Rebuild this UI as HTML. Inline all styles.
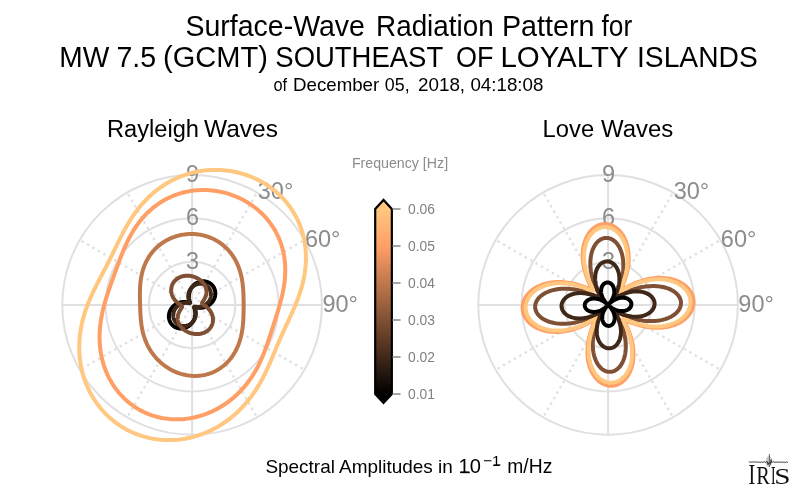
<!DOCTYPE html>
<html><head><meta charset="utf-8"><style>
html,body{margin:0;padding:0;background:#fff;width:800px;height:496px;overflow:hidden}
svg{display:block;will-change:transform}
text{font-family:"Liberation Sans",sans-serif}
.t1{font-size:28px;fill:#000}
.t2{font-size:18.7px;fill:#000}
.pt{font-size:23.3px;fill:#000}
.lab{font-size:23.5px;fill:#8c8c8c}
.cbl{font-size:13.6px;fill:#808080}
.cbt{font-size:14.2px;fill:#8c8c8c}
.cap{font-size:18.6px;fill:#000}
.iris{font-family:"Liberation Serif",serif;font-size:26px;fill:#111}
</style></head><body>
<svg width="800" height="496" viewBox="0 0 800 496">
<rect width="800" height="496" fill="#fff"/>
<circle cx="192.10" cy="304.90" r="43.27" fill="none" stroke="#e0e0e0" stroke-width="2.0"/>
<circle cx="192.10" cy="304.90" r="86.53" fill="none" stroke="#e0e0e0" stroke-width="2.0"/>
<circle cx="192.10" cy="304.90" r="129.80" fill="none" stroke="#e0e0e0" stroke-width="2.0"/>
<line x1="192.10" y1="304.90" x2="192.10" y2="175.10" stroke="#e0e0e0" stroke-width="2.0"/>
<line x1="192.10" y1="304.90" x2="257.00" y2="192.49" stroke="#e0e0e0" stroke-width="2.37" stroke-dasharray="2.37 3.89"/>
<line x1="192.10" y1="304.90" x2="304.51" y2="240.00" stroke="#e0e0e0" stroke-width="2.37" stroke-dasharray="2.37 3.89"/>
<line x1="192.10" y1="304.90" x2="321.90" y2="304.90" stroke="#e0e0e0" stroke-width="2.0"/>
<line x1="192.10" y1="304.90" x2="304.51" y2="369.80" stroke="#e0e0e0" stroke-width="2.37" stroke-dasharray="2.37 3.89"/>
<line x1="192.10" y1="304.90" x2="257.00" y2="417.31" stroke="#e0e0e0" stroke-width="2.37" stroke-dasharray="2.37 3.89"/>
<line x1="192.10" y1="304.90" x2="192.10" y2="434.70" stroke="#e0e0e0" stroke-width="2.0"/>
<line x1="192.10" y1="304.90" x2="127.20" y2="417.31" stroke="#e0e0e0" stroke-width="2.37" stroke-dasharray="2.37 3.89"/>
<line x1="192.10" y1="304.90" x2="79.69" y2="369.80" stroke="#e0e0e0" stroke-width="2.37" stroke-dasharray="2.37 3.89"/>
<line x1="192.10" y1="304.90" x2="62.30" y2="304.90" stroke="#e0e0e0" stroke-width="2.0"/>
<line x1="192.10" y1="304.90" x2="79.69" y2="240.00" stroke="#e0e0e0" stroke-width="2.37" stroke-dasharray="2.37 3.89"/>
<line x1="192.10" y1="304.90" x2="127.20" y2="192.49" stroke="#e0e0e0" stroke-width="2.37" stroke-dasharray="2.37 3.89"/>
<circle cx="608.07" cy="304.90" r="43.27" fill="none" stroke="#e0e0e0" stroke-width="2.0"/>
<circle cx="608.07" cy="304.90" r="86.53" fill="none" stroke="#e0e0e0" stroke-width="2.0"/>
<circle cx="608.07" cy="304.90" r="129.80" fill="none" stroke="#e0e0e0" stroke-width="2.0"/>
<line x1="608.07" y1="304.90" x2="608.07" y2="175.10" stroke="#e0e0e0" stroke-width="2.0"/>
<line x1="608.07" y1="304.90" x2="672.97" y2="192.49" stroke="#e0e0e0" stroke-width="2.37" stroke-dasharray="2.37 3.89"/>
<line x1="608.07" y1="304.90" x2="720.48" y2="240.00" stroke="#e0e0e0" stroke-width="2.37" stroke-dasharray="2.37 3.89"/>
<line x1="608.07" y1="304.90" x2="737.87" y2="304.90" stroke="#e0e0e0" stroke-width="2.0"/>
<line x1="608.07" y1="304.90" x2="720.48" y2="369.80" stroke="#e0e0e0" stroke-width="2.37" stroke-dasharray="2.37 3.89"/>
<line x1="608.07" y1="304.90" x2="672.97" y2="417.31" stroke="#e0e0e0" stroke-width="2.37" stroke-dasharray="2.37 3.89"/>
<line x1="608.07" y1="304.90" x2="608.07" y2="434.70" stroke="#e0e0e0" stroke-width="2.0"/>
<line x1="608.07" y1="304.90" x2="543.17" y2="417.31" stroke="#e0e0e0" stroke-width="2.37" stroke-dasharray="2.37 3.89"/>
<line x1="608.07" y1="304.90" x2="495.66" y2="369.80" stroke="#e0e0e0" stroke-width="2.37" stroke-dasharray="2.37 3.89"/>
<line x1="608.07" y1="304.90" x2="478.27" y2="304.90" stroke="#e0e0e0" stroke-width="2.0"/>
<line x1="608.07" y1="304.90" x2="495.66" y2="240.00" stroke="#e0e0e0" stroke-width="2.37" stroke-dasharray="2.37 3.89"/>
<line x1="608.07" y1="304.90" x2="543.17" y2="192.49" stroke="#e0e0e0" stroke-width="2.37" stroke-dasharray="2.37 3.89"/>
<text x="192.60" y="268.65" text-anchor="middle" class="lab">3</text>
<text x="192.60" y="225.45" text-anchor="middle" class="lab">6</text>
<text x="192.60" y="182.45" text-anchor="middle" class="lab">9</text>
<text x="608.57" y="268.65" text-anchor="middle" class="lab">3</text>
<text x="608.57" y="225.45" text-anchor="middle" class="lab">6</text>
<text x="608.57" y="182.45" text-anchor="middle" class="lab">9</text>
<text x="257.75" y="199.10" class="lab">30°</text>
<text x="304.90" y="247.00" class="lab">60°</text>
<text x="322.40" y="312.00" class="lab">90°</text>
<text x="673.72" y="199.10" class="lab">30°</text>
<text x="720.87" y="247.00" class="lab">60°</text>
<text x="738.37" y="312.00" class="lab">90°</text>
<path d="M192.10,286.99 L192.42,286.59 L192.75,286.19 L193.10,285.81 L193.46,285.44 L193.83,285.08 L194.22,284.73 L194.62,284.40 L195.03,284.08 L195.45,283.77 L195.88,283.49 L196.32,283.21 L196.76,282.96 L197.22,282.72 L197.69,282.50 L198.16,282.29 L198.64,282.11 L199.12,281.94 L199.61,281.79 L200.10,281.66 L200.60,281.55 L201.10,281.45 L201.60,281.38 L202.11,281.33 L202.61,281.29 L203.11,281.28 L203.62,281.29 L204.12,281.31 L204.62,281.36 L205.11,281.42 L205.60,281.51 L206.09,281.61 L206.57,281.74 L207.05,281.88 L207.52,282.04 L207.98,282.22 L208.43,282.42 L208.87,282.64 L209.31,282.88 L209.73,283.13 L210.14,283.40 L210.54,283.69 L210.93,283.99 L211.30,284.31 L211.66,284.64 L212.01,284.99 L212.34,285.35 L212.66,285.73 L212.96,286.12 L213.24,286.52 L213.51,286.94 L213.76,287.36 L213.99,287.80 L214.21,288.24 L214.40,288.69 L214.58,289.16 L214.74,289.63 L214.88,290.10 L215.01,290.59 L215.11,291.08 L215.19,291.57 L215.25,292.07 L215.30,292.57 L215.32,293.07 L215.32,293.57 L215.31,294.08 L215.27,294.58 L215.22,295.09 L215.14,295.59 L215.05,296.09 L214.94,296.59 L214.80,297.08 L214.65,297.57 L214.48,298.06 L214.29,298.54 L214.09,299.01 L213.87,299.47 L213.63,299.93 L213.37,300.38 L213.10,300.82 L212.81,301.25 L212.50,301.67 L212.18,302.08 L211.85,302.47 L211.51,302.86 L211.15,303.23 L210.77,303.59 L210.39,303.94 L210.00,304.28 L209.59,304.59 L209.18,304.90 L208.76,305.19 L208.32,305.47 L207.89,305.73 L207.44,305.97 L206.99,306.20 L206.53,306.42 L206.07,306.62 L205.61,306.80 L205.14,306.97 L204.67,307.12 L204.20,307.25 L203.73,307.37 L203.27,307.48 L202.80,307.57 L202.33,307.64 L201.87,307.70 L201.42,307.75 L200.97,307.78 L200.52,307.80 L200.08,307.81 L199.65,307.80 L199.23,307.78 L198.82,307.75 L198.42,307.71 L198.03,307.67 L197.66,307.61 L197.30,307.55 L196.96,307.48 L196.63,307.41 L196.32,307.34 L196.03,307.26 L195.76,307.19 L195.52,307.12 L195.29,307.05 L195.09,307.00 L194.92,306.95 L194.77,306.91 L194.64,306.89 L194.54,306.87 L194.46,306.88 L194.39,306.89 L194.34,306.91 L194.30,306.95 L194.26,306.98 L194.22,307.02 L194.19,307.07 L194.17,307.12 L194.16,307.18 L194.16,307.27 L194.17,307.37 L194.20,307.50 L194.24,307.65 L194.30,307.82 L194.36,308.02 L194.44,308.24 L194.51,308.48 L194.60,308.75 L194.68,309.03 L194.77,309.34 L194.85,309.66 L194.93,310.00 L195.00,310.36 L195.07,310.73 L195.13,311.12 L195.19,311.52 L195.23,311.93 L195.26,312.35 L195.28,312.78 L195.29,313.21 L195.29,313.66 L195.27,314.11 L195.24,314.57 L195.20,315.03 L195.14,315.50 L195.07,315.97 L194.98,316.44 L194.87,316.91 L194.75,317.39 L194.62,317.86 L194.47,318.33 L194.30,318.80 L194.12,319.27 L193.92,319.73 L193.71,320.19 L193.48,320.65 L193.23,321.09 L192.97,321.53 L192.70,321.97 L192.41,322.39 L192.10,322.81 L191.78,323.21 L191.45,323.61 L191.10,323.99 L190.74,324.36 L190.37,324.72 L189.98,325.07 L189.58,325.40 L189.17,325.72 L188.75,326.03 L188.32,326.31 L187.88,326.59 L187.44,326.84 L186.98,327.08 L186.51,327.30 L186.04,327.51 L185.56,327.69 L185.08,327.86 L184.59,328.01 L184.10,328.14 L183.60,328.25 L183.10,328.35 L182.60,328.42 L182.09,328.47 L181.59,328.51 L181.09,328.52 L180.58,328.51 L180.08,328.49 L179.58,328.44 L179.09,328.38 L178.60,328.29 L178.11,328.19 L177.63,328.06 L177.15,327.92 L176.68,327.76 L176.22,327.58 L175.77,327.38 L175.33,327.16 L174.89,326.92 L174.47,326.67 L174.06,326.40 L173.66,326.11 L173.27,325.81 L172.90,325.49 L172.54,325.16 L172.19,324.81 L171.86,324.45 L171.54,324.07 L171.24,323.68 L170.96,323.28 L170.69,322.86 L170.44,322.44 L170.21,322.00 L169.99,321.56 L169.80,321.11 L169.62,320.64 L169.46,320.17 L169.32,319.70 L169.19,319.21 L169.09,318.72 L169.01,318.23 L168.95,317.73 L168.90,317.23 L168.88,316.73 L168.88,316.23 L168.89,315.72 L168.93,315.22 L168.98,314.71 L169.06,314.21 L169.15,313.71 L169.26,313.21 L169.40,312.72 L169.55,312.23 L169.72,311.74 L169.91,311.26 L170.11,310.79 L170.33,310.33 L170.57,309.87 L170.83,309.42 L171.10,308.98 L171.39,308.55 L171.70,308.13 L172.02,307.72 L172.35,307.33 L172.69,306.94 L173.05,306.57 L173.43,306.21 L173.81,305.86 L174.20,305.52 L174.61,305.21 L175.02,304.90 L175.44,304.61 L175.88,304.33 L176.31,304.07 L176.76,303.83 L177.21,303.60 L177.67,303.38 L178.13,303.18 L178.59,303.00 L179.06,302.83 L179.53,302.68 L180.00,302.55 L180.47,302.43 L180.93,302.32 L181.40,302.23 L181.87,302.16 L182.33,302.10 L182.78,302.05 L183.23,302.02 L183.68,302.00 L184.12,301.99 L184.55,302.00 L184.97,302.02 L185.38,302.05 L185.78,302.09 L186.17,302.13 L186.54,302.19 L186.90,302.25 L187.24,302.32 L187.57,302.39 L187.88,302.46 L188.17,302.54 L188.44,302.61 L188.68,302.68 L188.91,302.75 L189.11,302.80 L189.28,302.85 L189.43,302.89 L189.56,302.91 L189.66,302.93 L189.74,302.92 L189.81,302.91 L189.86,302.89 L189.90,302.85 L189.94,302.82 L189.98,302.78 L190.01,302.73 L190.03,302.68 L190.04,302.62 L190.04,302.53 L190.03,302.43 L190.00,302.30 L189.96,302.15 L189.90,301.98 L189.84,301.78 L189.76,301.56 L189.69,301.32 L189.60,301.05 L189.52,300.77 L189.43,300.46 L189.35,300.14 L189.27,299.80 L189.20,299.44 L189.13,299.07 L189.07,298.68 L189.01,298.28 L188.97,297.87 L188.94,297.45 L188.92,297.02 L188.91,296.59 L188.91,296.14 L188.93,295.69 L188.96,295.23 L189.00,294.77 L189.06,294.30 L189.13,293.83 L189.22,293.36 L189.33,292.89 L189.45,292.41 L189.58,291.94 L189.73,291.47 L189.90,291.00 L190.08,290.53 L190.28,290.07 L190.49,289.61 L190.72,289.15 L190.97,288.71 L191.23,288.27 L191.50,287.83 L191.79,287.41Z" fill="none" stroke="#000000" stroke-width="4" stroke-linejoin="round"/>
<path d="M192.10,287.18 L192.41,286.88 L192.74,286.60 L193.07,286.32 L193.42,286.05 L193.77,285.80 L194.13,285.56 L194.50,285.34 L194.88,285.13 L195.26,284.93 L195.65,284.75 L196.05,284.58 L196.45,284.42 L196.86,284.29 L197.27,284.16 L197.69,284.06 L198.10,283.96 L198.52,283.89 L198.95,283.83 L199.37,283.79 L199.79,283.76 L200.22,283.75 L200.64,283.75 L201.07,283.78 L201.49,283.81 L201.91,283.87 L202.32,283.94 L202.74,284.03 L203.14,284.13 L203.55,284.25 L203.95,284.38 L204.34,284.53 L204.72,284.70 L205.10,284.88 L205.47,285.07 L205.84,285.28 L206.19,285.51 L206.53,285.75 L206.87,286.00 L207.19,286.26 L207.51,286.54 L207.81,286.83 L208.10,287.13 L208.38,287.44 L208.65,287.77 L208.90,288.10 L209.14,288.44 L209.37,288.80 L209.58,289.16 L209.78,289.53 L209.96,289.91 L210.13,290.30 L210.29,290.69 L210.43,291.09 L210.55,291.49 L210.66,291.90 L210.75,292.32 L210.83,292.74 L210.89,293.16 L210.93,293.58 L210.96,294.01 L210.97,294.44 L210.97,294.87 L210.95,295.30 L210.91,295.72 L210.86,296.15 L210.80,296.58 L210.71,297.00 L210.61,297.42 L210.50,297.84 L210.37,298.25 L210.23,298.66 L210.07,299.06 L209.89,299.46 L209.71,299.85 L209.51,300.24 L209.29,300.61 L209.06,300.98 L208.82,301.35 L208.57,301.70 L208.31,302.04 L208.03,302.38 L207.74,302.70 L207.45,303.02 L207.14,303.32 L206.82,303.61 L206.50,303.89 L206.16,304.16 L205.82,304.42 L205.47,304.67 L205.12,304.90 L204.76,305.12 L204.39,305.33 L204.02,305.52 L203.65,305.71 L203.27,305.88 L202.89,306.03 L202.51,306.18 L202.12,306.31 L201.74,306.43 L201.35,306.53 L200.97,306.62 L200.59,306.70 L200.21,306.77 L199.84,306.83 L199.47,306.87 L199.10,306.91 L198.75,306.93 L198.39,306.95 L198.05,306.95 L197.72,306.94 L197.39,306.93 L197.08,306.91 L196.78,306.89 L196.50,306.86 L196.22,306.82 L195.97,306.79 L195.73,306.75 L195.52,306.72 L195.32,306.68 L195.14,306.66 L194.99,306.64 L194.86,306.63 L194.75,306.62 L194.66,306.63 L194.59,306.65 L194.54,306.67 L194.50,306.71 L194.46,306.75 L194.43,306.79 L194.41,306.84 L194.40,306.90 L194.40,306.97 L194.41,307.06 L194.44,307.16 L194.49,307.29 L194.54,307.43 L194.61,307.59 L194.69,307.78 L194.78,307.98 L194.87,308.20 L194.96,308.44 L195.06,308.69 L195.16,308.96 L195.26,309.25 L195.35,309.54 L195.44,309.86 L195.53,310.18 L195.61,310.51 L195.68,310.86 L195.74,311.21 L195.80,311.57 L195.84,311.94 L195.88,312.32 L195.91,312.70 L195.92,313.09 L195.92,313.48 L195.91,313.88 L195.89,314.28 L195.86,314.69 L195.81,315.09 L195.75,315.50 L195.68,315.91 L195.59,316.32 L195.49,316.72 L195.38,317.13 L195.25,317.53 L195.11,317.93 L194.95,318.33 L194.79,318.72 L194.61,319.11 L194.41,319.50 L194.20,319.87 L193.98,320.25 L193.75,320.61 L193.51,320.97 L193.25,321.32 L192.98,321.66 L192.70,321.99 L192.40,322.31 L192.10,322.62 L191.79,322.92 L191.46,323.20 L191.13,323.48 L190.78,323.75 L190.43,324.00 L190.07,324.24 L189.70,324.46 L189.32,324.67 L188.94,324.87 L188.55,325.05 L188.15,325.22 L187.75,325.38 L187.34,325.51 L186.93,325.64 L186.51,325.74 L186.10,325.84 L185.68,325.91 L185.25,325.97 L184.83,326.01 L184.41,326.04 L183.98,326.05 L183.56,326.05 L183.13,326.02 L182.71,325.99 L182.29,325.93 L181.88,325.86 L181.46,325.77 L181.06,325.67 L180.65,325.55 L180.25,325.42 L179.86,325.27 L179.48,325.10 L179.10,324.92 L178.73,324.73 L178.36,324.52 L178.01,324.29 L177.67,324.05 L177.33,323.80 L177.01,323.54 L176.69,323.26 L176.39,322.97 L176.10,322.67 L175.82,322.36 L175.55,322.03 L175.30,321.70 L175.06,321.36 L174.83,321.00 L174.62,320.64 L174.42,320.27 L174.24,319.89 L174.07,319.50 L173.91,319.11 L173.77,318.71 L173.65,318.31 L173.54,317.90 L173.45,317.48 L173.37,317.06 L173.31,316.64 L173.27,316.22 L173.24,315.79 L173.23,315.36 L173.23,314.93 L173.25,314.50 L173.29,314.08 L173.34,313.65 L173.40,313.22 L173.49,312.80 L173.59,312.38 L173.70,311.96 L173.83,311.55 L173.97,311.14 L174.13,310.74 L174.31,310.34 L174.49,309.95 L174.69,309.56 L174.91,309.19 L175.14,308.82 L175.38,308.45 L175.63,308.10 L175.89,307.76 L176.17,307.42 L176.46,307.10 L176.75,306.78 L177.06,306.48 L177.38,306.19 L177.70,305.91 L178.04,305.64 L178.38,305.38 L178.73,305.13 L179.08,304.90 L179.44,304.68 L179.81,304.47 L180.18,304.28 L180.55,304.09 L180.93,303.92 L181.31,303.77 L181.69,303.62 L182.08,303.49 L182.46,303.37 L182.85,303.27 L183.23,303.18 L183.61,303.10 L183.99,303.03 L184.36,302.97 L184.73,302.93 L185.10,302.89 L185.45,302.87 L185.81,302.85 L186.15,302.85 L186.48,302.86 L186.81,302.87 L187.12,302.89 L187.42,302.91 L187.70,302.94 L187.98,302.98 L188.23,303.01 L188.47,303.05 L188.68,303.08 L188.88,303.12 L189.06,303.14 L189.21,303.16 L189.34,303.17 L189.45,303.18 L189.54,303.17 L189.61,303.15 L189.66,303.13 L189.70,303.09 L189.74,303.05 L189.77,303.01 L189.79,302.96 L189.80,302.90 L189.80,302.83 L189.79,302.74 L189.76,302.64 L189.71,302.51 L189.66,302.37 L189.59,302.21 L189.51,302.02 L189.42,301.82 L189.33,301.60 L189.24,301.36 L189.14,301.11 L189.04,300.84 L188.94,300.55 L188.85,300.26 L188.76,299.94 L188.67,299.62 L188.59,299.29 L188.52,298.94 L188.46,298.59 L188.40,298.23 L188.36,297.86 L188.32,297.48 L188.29,297.10 L188.28,296.71 L188.28,296.32 L188.29,295.92 L188.31,295.52 L188.34,295.11 L188.39,294.71 L188.45,294.30 L188.52,293.89 L188.61,293.48 L188.71,293.08 L188.82,292.67 L188.95,292.27 L189.09,291.87 L189.25,291.47 L189.41,291.08 L189.59,290.69 L189.79,290.30 L190.00,289.93 L190.22,289.55 L190.45,289.19 L190.69,288.83 L190.95,288.48 L191.22,288.14 L191.50,287.81 L191.80,287.49Z" fill="none" stroke="#402819" stroke-width="4" stroke-linejoin="round"/>
<path d="M192.10,276.30 L192.60,276.42 L193.09,276.55 L193.58,276.70 L194.06,276.85 L194.54,277.02 L195.01,277.19 L195.48,277.38 L195.94,277.57 L196.40,277.78 L196.84,277.99 L197.29,278.22 L197.72,278.45 L198.15,278.69 L198.57,278.94 L198.98,279.21 L199.39,279.48 L199.79,279.75 L200.18,280.04 L200.56,280.34 L200.93,280.64 L201.29,280.96 L201.64,281.28 L201.99,281.61 L202.32,281.95 L202.64,282.29 L202.95,282.65 L203.25,283.01 L203.54,283.38 L203.82,283.76 L204.08,284.14 L204.34,284.54 L204.57,284.94 L204.80,285.34 L205.01,285.75 L205.21,286.17 L205.40,286.60 L205.57,287.03 L205.73,287.46 L205.87,287.90 L205.99,288.34 L206.10,288.79 L206.20,289.24 L206.28,289.70 L206.34,290.15 L206.39,290.61 L206.42,291.07 L206.44,291.53 L206.44,291.99 L206.42,292.45 L206.39,292.91 L206.34,293.37 L206.28,293.82 L206.20,294.27 L206.11,294.72 L206.00,295.16 L205.88,295.60 L205.75,296.04 L205.60,296.46 L205.45,296.88 L205.28,297.29 L205.10,297.69 L204.91,298.09 L204.72,298.47 L204.51,298.84 L204.31,299.21 L204.10,299.56 L203.89,299.90 L203.68,300.22 L203.47,300.53 L203.27,300.83 L203.08,301.12 L202.89,301.39 L202.72,301.65 L202.56,301.90 L202.42,302.13 L202.30,302.36 L202.21,302.57 L202.14,302.77 L202.10,302.96 L202.09,303.14 L202.11,303.32 L202.16,303.49 L202.24,303.65 L202.36,303.82 L202.50,303.99 L202.68,304.16 L202.89,304.33 L203.12,304.52 L203.38,304.70 L203.66,304.90 L203.96,305.11 L204.28,305.33 L204.61,305.56 L204.96,305.80 L205.32,306.06 L205.69,306.33 L206.06,306.61 L206.44,306.91 L206.82,307.23 L207.19,307.56 L207.57,307.91 L207.95,308.27 L208.31,308.64 L208.68,309.03 L209.03,309.44 L209.38,309.85 L209.71,310.28 L210.03,310.73 L210.35,311.18 L210.64,311.65 L210.93,312.13 L211.19,312.61 L211.44,313.11 L211.68,313.62 L211.89,314.13 L212.09,314.65 L212.27,315.18 L212.43,315.71 L212.57,316.25 L212.69,316.79 L212.79,317.33 L212.87,317.88 L212.93,318.43 L212.97,318.98 L212.99,319.53 L212.98,320.07 L212.96,320.62 L212.91,321.16 L212.85,321.70 L212.76,322.24 L212.65,322.76 L212.52,323.29 L212.37,323.81 L212.20,324.32 L212.02,324.82 L211.81,325.31 L211.58,325.79 L211.34,326.27 L211.08,326.73 L210.80,327.18 L210.50,327.62 L210.19,328.05 L209.86,328.46 L209.51,328.87 L209.15,329.25 L208.78,329.63 L208.39,329.99 L207.99,330.34 L207.58,330.67 L207.16,330.98 L206.73,331.29 L206.28,331.57 L205.83,331.84 L205.36,332.10 L204.89,332.34 L204.41,332.56 L203.93,332.77 L203.44,332.96 L202.94,333.13 L202.44,333.30 L201.93,333.44 L201.42,333.57 L200.90,333.69 L200.38,333.79 L199.86,333.87 L199.34,333.94 L198.82,334.00 L198.29,334.04 L197.77,334.06 L197.24,334.08 L196.72,334.08 L196.20,334.06 L195.68,334.04 L195.16,334.00 L194.64,333.94 L194.13,333.88 L193.61,333.80 L193.11,333.72 L192.60,333.62 L192.10,333.50 L191.60,333.38 L191.11,333.25 L190.62,333.10 L190.14,332.95 L189.66,332.78 L189.19,332.61 L188.72,332.42 L188.26,332.23 L187.80,332.02 L187.36,331.81 L186.91,331.58 L186.48,331.35 L186.05,331.11 L185.63,330.86 L185.22,330.59 L184.81,330.32 L184.41,330.05 L184.02,329.76 L183.64,329.46 L183.27,329.16 L182.91,328.84 L182.56,328.52 L182.21,328.19 L181.88,327.85 L181.56,327.51 L181.25,327.15 L180.95,326.79 L180.66,326.42 L180.38,326.04 L180.12,325.66 L179.86,325.26 L179.63,324.86 L179.40,324.46 L179.19,324.05 L178.99,323.63 L178.80,323.20 L178.63,322.77 L178.47,322.34 L178.33,321.90 L178.21,321.46 L178.10,321.01 L178.00,320.56 L177.92,320.10 L177.86,319.65 L177.81,319.19 L177.78,318.73 L177.76,318.27 L177.76,317.81 L177.78,317.35 L177.81,316.89 L177.86,316.43 L177.92,315.98 L178.00,315.53 L178.09,315.08 L178.20,314.64 L178.32,314.20 L178.45,313.76 L178.60,313.34 L178.75,312.92 L178.92,312.51 L179.10,312.11 L179.29,311.71 L179.48,311.33 L179.69,310.96 L179.89,310.59 L180.10,310.24 L180.31,309.90 L180.52,309.58 L180.73,309.27 L180.93,308.97 L181.12,308.68 L181.31,308.41 L181.48,308.15 L181.64,307.90 L181.78,307.67 L181.90,307.44 L181.99,307.23 L182.06,307.03 L182.10,306.84 L182.11,306.66 L182.09,306.48 L182.04,306.31 L181.96,306.15 L181.84,305.98 L181.70,305.81 L181.52,305.64 L181.31,305.47 L181.08,305.28 L180.82,305.10 L180.54,304.90 L180.24,304.69 L179.92,304.47 L179.59,304.24 L179.24,304.00 L178.88,303.74 L178.51,303.47 L178.14,303.19 L177.76,302.89 L177.38,302.57 L177.01,302.24 L176.63,301.89 L176.25,301.53 L175.89,301.16 L175.52,300.77 L175.17,300.36 L174.82,299.95 L174.49,299.52 L174.17,299.07 L173.85,298.62 L173.56,298.15 L173.27,297.67 L173.01,297.19 L172.76,296.69 L172.52,296.18 L172.31,295.67 L172.11,295.15 L171.93,294.62 L171.77,294.09 L171.63,293.55 L171.51,293.01 L171.41,292.47 L171.33,291.92 L171.27,291.37 L171.23,290.82 L171.21,290.27 L171.22,289.73 L171.24,289.18 L171.29,288.64 L171.35,288.10 L171.44,287.56 L171.55,287.04 L171.68,286.51 L171.83,285.99 L172.00,285.48 L172.18,284.98 L172.39,284.49 L172.62,284.01 L172.86,283.53 L173.12,283.07 L173.40,282.62 L173.70,282.18 L174.01,281.75 L174.34,281.34 L174.69,280.93 L175.05,280.55 L175.42,280.17 L175.81,279.81 L176.21,279.46 L176.62,279.13 L177.04,278.82 L177.47,278.51 L177.92,278.23 L178.37,277.96 L178.84,277.70 L179.31,277.46 L179.79,277.24 L180.27,277.03 L180.76,276.84 L181.26,276.67 L181.76,276.50 L182.27,276.36 L182.78,276.23 L183.30,276.11 L183.82,276.01 L184.34,275.93 L184.86,275.86 L185.38,275.80 L185.91,275.76 L186.43,275.74 L186.96,275.72 L187.48,275.72 L188.00,275.74 L188.52,275.76 L189.04,275.80 L189.56,275.86 L190.07,275.92 L190.59,276.00 L191.09,276.08 L191.60,276.18Z" fill="none" stroke="#7f5033" stroke-width="4" stroke-linejoin="round"/>
<path d="M192.10,233.99 L193.34,234.03 L194.57,234.09 L195.81,234.18 L197.04,234.30 L198.26,234.45 L199.49,234.63 L200.70,234.84 L201.91,235.08 L203.12,235.35 L204.31,235.65 L205.50,235.97 L206.68,236.33 L207.84,236.71 L209.00,237.12 L210.14,237.56 L211.27,238.03 L212.39,238.53 L213.50,239.05 L214.59,239.59 L215.66,240.17 L216.72,240.77 L217.76,241.39 L218.78,242.04 L219.79,242.71 L220.77,243.41 L221.74,244.13 L222.69,244.87 L223.61,245.63 L224.52,246.41 L225.40,247.22 L226.27,248.04 L227.11,248.88 L227.92,249.74 L228.72,250.61 L229.49,251.50 L230.24,252.41 L230.96,253.33 L231.66,254.26 L232.34,255.20 L233.00,256.16 L233.63,257.13 L234.23,258.11 L234.81,259.09 L235.37,260.09 L235.91,261.09 L236.42,262.10 L236.91,263.11 L237.38,264.13 L237.82,265.15 L238.24,266.18 L238.65,267.21 L239.03,268.24 L239.39,269.27 L239.72,270.30 L240.04,271.33 L240.35,272.36 L240.63,273.39 L240.89,274.41 L241.14,275.43 L241.37,276.45 L241.59,277.47 L241.78,278.48 L241.97,279.49 L242.14,280.49 L242.30,281.49 L242.44,282.49 L242.58,283.47 L242.70,284.46 L242.81,285.43 L242.91,286.41 L243.00,287.37 L243.08,288.33 L243.16,289.29 L243.22,290.24 L243.28,291.19 L243.34,292.12 L243.39,293.06 L243.43,293.99 L243.46,294.92 L243.50,295.84 L243.53,296.76 L243.55,297.67 L243.57,298.58 L243.59,299.49 L243.60,300.39 L243.61,301.30 L243.62,302.20 L243.63,303.10 L243.64,304.00 L243.64,304.90 L243.64,305.80 L243.64,306.70 L243.63,307.60 L243.63,308.50 L243.62,309.41 L243.61,310.31 L243.60,311.22 L243.58,312.14 L243.56,313.05 L243.54,313.97 L243.51,314.89 L243.48,315.82 L243.45,316.75 L243.41,317.69 L243.36,318.64 L243.31,319.58 L243.25,320.54 L243.19,321.50 L243.12,322.47 L243.04,323.44 L242.95,324.42 L242.85,325.40 L242.74,326.40 L242.62,327.39 L242.49,328.40 L242.35,329.41 L242.19,330.42 L242.02,331.45 L241.84,332.47 L241.64,333.50 L241.43,334.54 L241.20,335.58 L240.96,336.63 L240.69,337.68 L240.41,338.73 L240.11,339.78 L239.79,340.84 L239.45,341.89 L239.08,342.95 L238.70,344.00 L238.30,345.06 L237.87,346.11 L237.42,347.16 L236.94,348.20 L236.45,349.25 L235.92,350.28 L235.38,351.31 L234.81,352.33 L234.21,353.34 L233.59,354.34 L232.94,355.34 L232.27,356.32 L231.57,357.28 L230.85,358.23 L230.10,359.17 L229.33,360.09 L228.53,361.00 L227.71,361.88 L226.86,362.75 L225.99,363.60 L225.09,364.42 L224.18,365.23 L223.23,366.01 L222.27,366.76 L221.29,367.49 L220.28,368.19 L219.25,368.87 L218.21,369.52 L217.14,370.14 L216.06,370.74 L214.96,371.30 L213.85,371.83 L212.72,372.33 L211.57,372.80 L210.41,373.24 L209.24,373.65 L208.06,374.02 L206.86,374.36 L205.66,374.67 L204.45,374.94 L203.23,375.18 L202.01,375.39 L200.78,375.56 L199.54,375.70 L198.30,375.81 L197.06,375.88 L195.82,375.92 L194.58,375.93 L193.34,375.90 L192.10,375.84 L190.86,375.75 L189.63,375.63 L188.40,375.48 L187.18,375.29 L185.96,375.08 L184.75,374.83 L183.55,374.55 L182.35,374.25 L181.17,373.92 L179.99,373.56 L178.83,373.17 L177.68,372.75 L176.54,372.31 L175.41,371.84 L174.29,371.35 L173.19,370.83 L172.11,370.29 L171.04,369.73 L169.98,369.14 L168.94,368.53 L167.91,367.90 L166.91,367.25 L165.92,366.58 L164.94,365.89 L163.99,365.19 L163.05,364.46 L162.13,363.71 L161.23,362.95 L160.35,362.17 L159.49,361.38 L158.65,360.57 L157.83,359.75 L157.02,358.91 L156.24,358.06 L155.48,357.20 L154.74,356.32 L154.02,355.44 L153.32,354.54 L152.64,353.63 L151.98,352.71 L151.34,351.78 L150.73,350.85 L150.13,349.90 L149.56,348.95 L149.01,347.99 L148.47,347.03 L147.96,346.06 L147.47,345.08 L147.00,344.10 L146.55,343.12 L146.12,342.13 L145.71,341.14 L145.32,340.15 L144.95,339.16 L144.59,338.16 L144.26,337.17 L143.94,336.17 L143.65,335.18 L143.37,334.18 L143.10,333.19 L142.85,332.20 L142.62,331.21 L142.40,330.22 L142.20,329.24 L142.01,328.26 L141.84,327.28 L141.68,326.30 L141.53,325.33 L141.39,324.37 L141.26,323.40 L141.15,322.44 L141.04,321.49 L140.94,320.54 L140.85,319.60 L140.77,318.65 L140.69,317.72 L140.62,316.78 L140.56,315.85 L140.50,314.93 L140.45,314.01 L140.40,313.09 L140.36,312.17 L140.31,311.26 L140.28,310.35 L140.24,309.44 L140.21,308.53 L140.17,307.62 L140.14,306.71 L140.11,305.81 L140.09,304.90 L140.06,303.99 L140.04,303.08 L140.01,302.17 L139.99,301.26 L139.97,300.34 L139.96,299.42 L139.94,298.50 L139.93,297.57 L139.92,296.64 L139.91,295.70 L139.91,294.75 L139.91,293.81 L139.92,292.85 L139.93,291.89 L139.95,290.93 L139.97,289.95 L140.00,288.97 L140.04,287.99 L140.09,286.99 L140.15,285.99 L140.23,284.99 L140.31,283.97 L140.40,282.96 L140.51,281.93 L140.63,280.90 L140.77,279.86 L140.92,278.82 L141.09,277.78 L141.27,276.73 L141.48,275.67 L141.70,274.62 L141.94,273.56 L142.20,272.49 L142.48,271.43 L142.79,270.37 L143.11,269.31 L143.46,268.25 L143.83,267.19 L144.23,266.13 L144.64,265.08 L145.09,264.03 L145.55,262.99 L146.05,261.95 L146.56,260.92 L147.10,259.90 L147.67,258.89 L148.26,257.89 L148.88,256.90 L149.52,255.92 L150.19,254.95 L150.88,254.00 L151.60,253.06 L152.34,252.14 L153.11,251.23 L153.89,250.34 L154.71,249.46 L155.54,248.61 L156.40,247.77 L157.28,246.95 L158.18,246.16 L159.11,245.38 L160.05,244.63 L161.02,243.90 L162.00,243.19 L163.00,242.50 L164.02,241.84 L165.06,241.20 L166.12,240.59 L167.19,240.00 L168.27,239.44 L169.37,238.90 L170.49,238.39 L171.62,237.91 L172.76,237.45 L173.91,237.02 L175.08,236.62 L176.25,236.24 L177.43,235.90 L178.63,235.58 L179.83,235.29 L181.03,235.03 L182.25,234.80 L183.47,234.60 L184.69,234.42 L185.92,234.28 L187.15,234.16 L188.39,234.07 L189.62,234.02 L190.86,233.99Z" fill="none" stroke="#bf784c" stroke-width="4" stroke-linejoin="round"/>
<path d="M192.10,190.80 L194.10,190.55 L196.10,190.34 L198.11,190.19 L200.13,190.08 L202.15,190.03 L204.17,190.02 L206.20,190.07 L208.23,190.16 L210.25,190.30 L212.27,190.50 L214.29,190.74 L216.31,191.02 L218.31,191.36 L220.31,191.75 L222.30,192.18 L224.28,192.66 L226.25,193.19 L228.21,193.76 L230.15,194.38 L232.08,195.05 L233.99,195.76 L235.89,196.52 L237.76,197.32 L239.62,198.17 L241.45,199.07 L243.26,200.00 L245.05,200.98 L246.81,202.00 L248.55,203.07 L250.25,204.17 L251.93,205.32 L253.58,206.51 L255.20,207.74 L256.78,209.00 L258.33,210.31 L259.85,211.65 L261.33,213.03 L262.77,214.44 L264.18,215.89 L265.54,217.38 L266.86,218.89 L268.15,220.44 L269.39,222.02 L270.58,223.63 L271.73,225.27 L272.84,226.93 L273.90,228.62 L274.92,230.33 L275.88,232.07 L276.80,233.83 L277.68,235.60 L278.50,237.40 L279.27,239.21 L280.00,241.04 L280.68,242.88 L281.31,244.73 L281.89,246.59 L282.42,248.46 L282.90,250.34 L283.34,252.23 L283.72,254.11 L284.07,256.00 L284.36,257.89 L284.61,259.78 L284.82,261.66 L284.98,263.54 L285.11,265.42 L285.19,267.29 L285.23,269.15 L285.23,271.00 L285.20,272.84 L285.13,274.67 L285.03,276.49 L284.90,278.29 L284.73,280.08 L284.54,281.85 L284.32,283.61 L284.07,285.35 L283.80,287.08 L283.51,288.78 L283.19,290.47 L282.86,292.14 L282.51,293.80 L282.14,295.44 L281.76,297.06 L281.37,298.66 L280.97,300.24 L280.55,301.81 L280.13,303.36 L279.70,304.90 L279.27,306.42 L278.83,307.93 L278.38,309.42 L277.94,310.90 L277.49,312.37 L277.04,313.83 L276.59,315.27 L276.13,316.71 L275.68,318.14 L275.23,319.56 L274.78,320.97 L274.33,322.38 L273.88,323.78 L273.44,325.18 L272.99,326.57 L272.54,327.97 L272.10,329.36 L271.65,330.75 L271.20,332.14 L270.75,333.53 L270.30,334.92 L269.84,336.31 L269.38,337.71 L268.92,339.10 L268.45,340.50 L267.98,341.91 L267.50,343.32 L267.00,344.73 L266.50,346.14 L265.99,347.56 L265.47,348.99 L264.94,350.41 L264.39,351.85 L263.83,353.28 L263.25,354.72 L262.66,356.16 L262.05,357.61 L261.42,359.06 L260.77,360.51 L260.10,361.96 L259.41,363.41 L258.69,364.86 L257.96,366.31 L257.19,367.76 L256.41,369.21 L255.60,370.66 L254.76,372.10 L253.90,373.54 L253.01,374.97 L252.09,376.40 L251.15,377.82 L250.18,379.23 L249.17,380.64 L248.14,382.04 L247.08,383.42 L245.99,384.80 L244.87,386.16 L243.72,387.51 L242.54,388.84 L241.33,390.16 L240.09,391.47 L238.81,392.76 L237.51,394.03 L236.18,395.28 L234.82,396.51 L233.43,397.72 L232.00,398.91 L230.55,400.07 L229.07,401.22 L227.56,402.33 L226.02,403.42 L224.46,404.49 L222.86,405.52 L221.24,406.53 L219.59,407.51 L217.92,408.46 L216.22,409.37 L214.49,410.25 L212.74,411.10 L210.97,411.91 L209.17,412.68 L207.35,413.42 L205.51,414.12 L203.65,414.78 L201.77,415.40 L199.87,415.98 L197.95,416.51 L196.01,417.00 L194.06,417.45 L192.10,417.85 L190.12,418.21 L188.13,418.52 L186.13,418.78 L184.12,418.99 L182.10,419.15 L180.08,419.26 L178.05,419.32 L176.02,419.33 L173.98,419.29 L171.95,419.20 L169.91,419.05 L167.88,418.85 L165.85,418.59 L163.83,418.28 L161.82,417.92 L159.81,417.50 L157.82,417.03 L155.84,416.51 L153.87,415.93 L151.92,415.29 L149.99,414.61 L148.07,413.87 L146.18,413.08 L144.31,412.24 L142.47,411.34 L140.65,410.40 L138.85,409.40 L137.09,408.36 L135.36,407.27 L133.66,406.13 L131.99,404.94 L130.35,403.72 L128.75,402.44 L127.19,401.13 L125.67,399.77 L124.18,398.38 L122.74,396.95 L121.33,395.48 L119.97,393.97 L118.65,392.44 L117.37,390.87 L116.14,389.26 L114.95,387.64 L113.80,385.98 L112.70,384.30 L111.65,382.59 L110.64,380.86 L109.67,379.12 L108.76,377.35 L107.89,375.56 L107.06,373.76 L106.28,371.95 L105.54,370.12 L104.86,368.29 L104.21,366.44 L103.61,364.59 L103.06,362.73 L102.54,360.86 L102.08,358.99 L101.65,357.12 L101.27,355.25 L100.92,353.38 L100.62,351.51 L100.36,349.65 L100.14,347.78 L99.95,345.93 L99.80,344.08 L99.69,342.24 L99.61,340.40 L99.57,338.58 L99.56,336.76 L99.58,334.96 L99.64,333.17 L99.72,331.39 L99.84,329.62 L99.98,327.87 L100.14,326.13 L100.34,324.40 L100.55,322.69 L100.80,321.00 L101.06,319.32 L101.34,317.66 L101.65,316.01 L101.97,314.37 L102.31,312.76 L102.66,311.15 L103.04,309.57 L103.42,308.00 L103.82,306.44 L104.23,304.90 L104.65,303.37 L105.08,301.86 L105.52,300.36 L105.97,298.88 L106.43,297.40 L106.89,295.94 L107.35,294.49 L107.83,293.06 L108.30,291.63 L108.78,290.21 L109.26,288.80 L109.75,287.40 L110.23,286.00 L110.72,284.61 L111.21,283.23 L111.70,281.85 L112.19,280.47 L112.68,279.10 L113.17,277.72 L113.67,276.35 L114.16,274.98 L114.65,273.61 L115.15,272.24 L115.65,270.86 L116.15,269.48 L116.65,268.10 L117.15,266.71 L117.66,265.32 L118.18,263.92 L118.70,262.52 L119.22,261.11 L119.76,259.70 L120.30,258.27 L120.85,256.84 L121.41,255.40 L121.98,253.96 L122.57,252.50 L123.17,251.04 L123.78,249.58 L124.41,248.10 L125.06,246.62 L125.73,245.14 L126.41,243.65 L127.12,242.15 L127.85,240.65 L128.61,239.15 L129.39,237.65 L130.19,236.14 L131.02,234.64 L131.88,233.13 L132.77,231.63 L133.69,230.13 L134.64,228.64 L135.62,227.16 L136.63,225.68 L137.68,224.21 L138.75,222.76 L139.87,221.31 L141.02,219.88 L142.20,218.47 L143.42,217.07 L144.67,215.70 L145.96,214.34 L147.28,213.01 L148.64,211.70 L150.03,210.41 L151.46,209.16 L152.92,207.93 L154.42,206.74 L155.95,205.57 L157.51,204.44 L159.10,203.35 L160.73,202.29 L162.38,201.26 L164.07,200.28 L165.78,199.34 L167.52,198.43 L169.29,197.57 L171.08,196.75 L172.89,195.98 L174.73,195.25 L176.59,194.57 L178.47,193.93 L180.37,193.34 L182.29,192.79 L184.23,192.30 L186.18,191.85 L188.14,191.45 L190.11,191.10Z" fill="none" stroke="#ff9f65" stroke-width="4" stroke-linejoin="round"/>
<path d="M192.10,172.81 L194.42,172.26 L196.75,171.76 L199.10,171.32 L201.47,170.93 L203.85,170.61 L206.24,170.35 L208.65,170.14 L211.06,170.00 L213.48,169.91 L215.91,169.89 L218.34,169.93 L220.77,170.03 L223.20,170.19 L225.63,170.42 L228.06,170.71 L230.48,171.06 L232.89,171.47 L235.30,171.95 L237.69,172.48 L240.08,173.08 L242.45,173.74 L244.80,174.47 L247.13,175.25 L249.45,176.10 L251.74,177.01 L254.00,177.98 L256.24,179.01 L258.46,180.10 L260.64,181.25 L262.79,182.45 L264.91,183.72 L266.99,185.04 L269.04,186.42 L271.04,187.86 L273.01,189.35 L274.93,190.90 L276.81,192.49 L278.63,194.14 L280.41,195.84 L282.15,197.59 L283.82,199.38 L285.45,201.23 L287.02,203.11 L288.53,205.04 L289.99,207.01 L291.39,209.02 L292.72,211.07 L294.00,213.15 L295.21,215.27 L296.36,217.42 L297.44,219.59 L298.46,221.80 L299.42,224.03 L300.31,226.28 L301.13,228.55 L301.89,230.85 L302.58,233.15 L303.21,235.47 L303.76,237.81 L304.26,240.15 L304.69,242.49 L305.05,244.84 L305.35,247.20 L305.59,249.55 L305.76,251.90 L305.88,254.24 L305.94,256.58 L305.94,258.91 L305.88,261.22 L305.77,263.53 L305.61,265.82 L305.40,268.09 L305.13,270.34 L304.83,272.58 L304.47,274.79 L304.08,276.98 L303.65,279.15 L303.17,281.29 L302.67,283.41 L302.13,285.50 L301.56,287.56 L300.96,289.60 L300.34,291.61 L299.69,293.59 L299.02,295.55 L298.34,297.47 L297.64,299.37 L296.92,301.24 L296.19,303.08 L295.45,304.90 L294.71,306.69 L293.95,308.46 L293.20,310.20 L292.44,311.92 L291.68,313.61 L290.92,315.29 L290.16,316.94 L289.41,318.58 L288.66,320.19 L287.91,321.79 L287.17,323.38 L286.44,324.95 L285.71,326.51 L284.99,328.06 L284.28,329.60 L283.58,331.13 L282.89,332.66 L282.20,334.17 L281.52,335.69 L280.85,337.20 L280.18,338.71 L279.52,340.22 L278.87,341.73 L278.22,343.24 L277.57,344.76 L276.93,346.27 L276.29,347.80 L275.65,349.32 L275.01,350.86 L274.37,352.40 L273.72,353.94 L273.07,355.50 L272.42,357.06 L271.76,358.63 L271.09,360.21 L270.41,361.79 L269.71,363.39 L269.01,364.99 L268.29,366.60 L267.56,368.22 L266.81,369.84 L266.04,371.47 L265.25,373.11 L264.44,374.75 L263.60,376.40 L262.75,378.06 L261.86,379.71 L260.96,381.37 L260.02,383.03 L259.06,384.70 L258.06,386.36 L257.04,388.02 L255.98,389.68 L254.90,391.33 L253.78,392.98 L252.62,394.63 L251.43,396.27 L250.21,397.90 L248.95,399.52 L247.66,401.13 L246.32,402.72 L244.96,404.31 L243.55,405.88 L242.11,407.43 L240.63,408.96 L239.11,410.48 L237.55,411.97 L235.95,413.44 L234.32,414.89 L232.65,416.32 L230.94,417.71 L229.20,419.08 L227.42,420.42 L225.60,421.73 L223.74,423.00 L221.86,424.24 L219.93,425.45 L217.97,426.61 L215.98,427.74 L213.95,428.83 L211.89,429.88 L209.81,430.88 L207.69,431.84 L205.54,432.76 L203.36,433.62 L201.16,434.44 L198.93,435.21 L196.68,435.93 L194.40,436.59 L192.10,437.20 L189.78,437.76 L187.44,438.25 L185.09,438.70 L182.72,439.08 L180.33,439.40 L177.94,439.67 L175.53,439.87 L173.11,440.01 L170.69,440.09 L168.26,440.10 L165.83,440.05 L163.40,439.94 L160.97,439.76 L158.54,439.51 L156.11,439.20 L153.70,438.82 L151.29,438.38 L148.89,437.87 L146.51,437.30 L144.14,436.66 L141.79,435.95 L139.46,435.18 L137.15,434.34 L134.87,433.44 L132.61,432.48 L130.38,431.45 L128.18,430.36 L126.00,429.21 L123.87,428.00 L121.76,426.72 L119.70,425.40 L117.67,424.01 L115.69,422.57 L113.74,421.07 L111.84,419.52 L109.99,417.92 L108.18,416.27 L106.42,414.57 L104.70,412.82 L103.04,411.03 L101.43,409.20 L99.88,407.33 L98.37,405.41 L96.92,403.46 L95.53,401.47 L94.19,399.45 L92.91,397.40 L91.68,395.32 L90.51,393.21 L89.41,391.07 L88.35,388.91 L87.36,386.73 L86.43,384.53 L85.55,382.31 L84.74,380.08 L83.98,377.83 L83.28,375.57 L82.64,373.30 L82.05,371.02 L81.52,368.74 L81.05,366.45 L80.64,364.16 L80.28,361.88 L79.98,359.59 L79.73,357.30 L79.53,355.02 L79.38,352.74 L79.29,350.48 L79.25,348.22 L79.25,345.97 L79.31,343.74 L79.41,341.52 L79.55,339.31 L79.74,337.12 L79.98,334.94 L80.25,332.79 L80.57,330.65 L80.92,328.53 L81.31,326.44 L81.73,324.36 L82.19,322.31 L82.68,320.28 L83.20,318.27 L83.75,316.29 L84.33,314.33 L84.94,312.39 L85.56,310.48 L86.21,308.60 L86.88,306.74 L87.57,304.90 L88.28,303.09 L89.00,301.30 L89.73,299.54 L90.48,297.79 L91.24,296.08 L92.01,294.38 L92.79,292.71 L93.57,291.05 L94.36,289.42 L95.15,287.81 L95.95,286.21 L96.74,284.63 L97.54,283.07 L98.34,281.52 L99.13,279.99 L99.93,278.47 L100.72,276.96 L101.50,275.46 L102.29,273.97 L103.07,272.49 L103.84,271.02 L104.61,269.55 L105.37,268.09 L106.13,266.62 L106.88,265.16 L107.63,263.70 L108.38,262.24 L109.12,260.78 L109.86,259.31 L110.59,257.84 L111.32,256.36 L112.05,254.88 L112.78,253.39 L113.51,251.89 L114.25,250.39 L114.98,248.87 L115.72,247.35 L116.47,245.81 L117.22,244.26 L117.98,242.71 L118.75,241.14 L119.53,239.56 L120.33,237.97 L121.14,236.37 L121.96,234.76 L122.81,233.14 L123.67,231.51 L124.55,229.88 L125.45,228.23 L126.38,226.58 L127.34,224.92 L128.32,223.26 L129.32,221.59 L130.36,219.93 L131.43,218.26 L132.53,216.59 L133.67,214.92 L134.84,213.26 L136.04,211.60 L137.28,209.95 L138.56,208.31 L139.88,206.68 L141.23,205.06 L142.62,203.46 L144.06,201.87 L145.53,200.30 L147.04,198.75 L148.60,197.22 L150.19,195.72 L151.82,194.24 L153.50,192.80 L155.21,191.38 L156.97,189.99 L158.76,188.63 L160.59,187.32 L162.46,186.03 L164.37,184.79 L166.31,183.59 L168.29,182.43 L170.31,181.31 L172.36,180.24 L174.44,179.21 L176.55,178.23 L178.69,177.30 L180.86,176.42 L183.06,175.59 L185.28,174.82 L187.53,174.09 L189.81,173.43Z" fill="none" stroke="#ffc77f" stroke-width="4" stroke-linejoin="round"/>
<path d="M608.07,238.05 L609.23,238.29 L610.38,238.65 L611.52,239.14 L612.63,239.75 L613.71,240.48 L614.75,241.32 L615.76,242.28 L616.72,243.35 L617.63,244.52 L618.49,245.80 L619.29,247.17 L620.03,248.64 L620.70,250.20 L621.30,251.83 L621.83,253.55 L622.28,255.33 L622.66,257.18 L622.96,259.08 L623.17,261.03 L623.31,263.03 L623.36,265.06 L623.33,267.12 L623.22,269.20 L623.04,271.29 L622.77,273.38 L622.43,275.46 L622.02,277.53 L621.54,279.57 L621.00,281.58 L620.40,283.54 L619.76,285.45 L619.08,287.28 L618.38,289.03 L617.66,290.68 L616.95,292.22 L616.26,293.62 L615.63,294.87 L615.08,295.93 L614.63,296.79 L614.32,297.45 L614.16,297.90 L614.13,298.17 L614.21,298.32 L614.33,298.42 L614.53,298.44 L614.87,298.33 L615.40,298.06 L616.14,297.63 L617.10,297.05 L618.25,296.36 L619.58,295.58 L621.06,294.75 L622.69,293.88 L624.43,293.01 L626.29,292.15 L628.23,291.30 L630.25,290.50 L632.34,289.73 L634.48,289.03 L636.68,288.38 L638.90,287.81 L641.16,287.31 L643.42,286.89 L645.70,286.55 L647.97,286.29 L650.23,286.13 L652.47,286.05 L654.68,286.07 L656.85,286.17 L658.98,286.37 L661.04,286.66 L663.05,287.04 L664.98,287.50 L666.83,288.05 L668.59,288.68 L670.26,289.39 L671.83,290.18 L673.29,291.04 L674.64,291.96 L675.87,292.94 L676.98,293.99 L677.96,295.08 L678.81,296.21 L679.52,297.39 L680.10,298.60 L680.53,299.83 L680.83,301.09 L680.98,302.35 L680.98,303.63 L680.85,304.90 L680.57,306.17 L680.14,307.42 L679.58,308.65 L678.88,309.85 L678.04,311.02 L677.07,312.15 L675.97,313.24 L674.75,314.27 L673.40,315.25 L671.95,316.16 L670.38,317.01 L668.71,317.79 L666.95,318.49 L665.10,319.12 L663.16,319.66 L661.15,320.12 L659.08,320.50 L656.95,320.78 L654.77,320.98 L652.55,321.09 L650.29,321.11 L648.02,321.04 L645.73,320.89 L643.44,320.65 L641.15,320.33 L638.88,319.93 L636.64,319.45 L634.43,318.91 L632.26,318.31 L630.16,317.65 L628.13,316.95 L626.17,316.21 L624.32,315.45 L622.57,314.68 L620.96,313.93 L619.49,313.20 L618.20,312.53 L617.09,311.95 L616.20,311.49 L615.53,311.16 L615.08,310.99 L614.80,310.96 L614.65,311.04 L614.55,311.16 L614.53,311.36 L614.63,311.70 L614.89,312.22 L615.31,312.94 L615.86,313.86 L616.52,314.97 L617.26,316.24 L618.04,317.66 L618.85,319.21 L619.66,320.86 L620.47,322.60 L621.24,324.43 L621.98,326.32 L622.67,328.26 L623.30,330.25 L623.88,332.28 L624.38,334.33 L624.81,336.39 L625.17,338.46 L625.45,340.54 L625.65,342.60 L625.76,344.64 L625.80,346.66 L625.74,348.65 L625.61,350.59 L625.39,352.49 L625.09,354.33 L624.71,356.11 L624.25,357.82 L623.71,359.46 L623.11,361.01 L622.43,362.48 L621.68,363.86 L620.88,365.14 L620.01,366.33 L619.09,367.40 L618.12,368.37 L617.11,369.23 L616.06,369.97 L614.97,370.59 L613.86,371.09 L612.73,371.47 L611.57,371.73 L610.41,371.86 L609.24,371.87 L608.07,371.75 L606.91,371.51 L605.76,371.15 L604.62,370.66 L603.51,370.05 L602.43,369.32 L601.39,368.48 L600.38,367.52 L599.42,366.45 L598.51,365.28 L597.65,364.00 L596.85,362.63 L596.11,361.16 L595.44,359.60 L594.84,357.97 L594.31,356.25 L593.86,354.47 L593.48,352.62 L593.18,350.72 L592.97,348.77 L592.83,346.77 L592.78,344.74 L592.81,342.68 L592.92,340.60 L593.10,338.51 L593.37,336.42 L593.71,334.34 L594.12,332.27 L594.60,330.23 L595.14,328.22 L595.74,326.26 L596.38,324.35 L597.06,322.52 L597.76,320.77 L598.48,319.12 L599.19,317.58 L599.88,316.18 L600.51,314.93 L601.06,313.87 L601.51,313.01 L601.82,312.35 L601.98,311.90 L602.01,311.63 L601.93,311.48 L601.81,311.38 L601.61,311.36 L601.27,311.47 L600.74,311.74 L600.00,312.17 L599.04,312.75 L597.89,313.44 L596.56,314.22 L595.08,315.05 L593.45,315.92 L591.71,316.79 L589.85,317.65 L587.91,318.50 L585.89,319.30 L583.80,320.07 L581.66,320.77 L579.46,321.42 L577.24,321.99 L574.98,322.49 L572.72,322.91 L570.44,323.25 L568.17,323.51 L565.91,323.67 L563.67,323.75 L561.46,323.73 L559.29,323.63 L557.16,323.43 L555.10,323.14 L553.09,322.76 L551.16,322.30 L549.31,321.75 L547.55,321.12 L545.88,320.41 L544.31,319.62 L542.85,318.76 L541.50,317.84 L540.27,316.86 L539.16,315.81 L538.18,314.72 L537.33,313.59 L536.62,312.41 L536.04,311.20 L535.61,309.97 L535.31,308.71 L535.16,307.45 L535.16,306.17 L535.29,304.90 L535.57,303.63 L536.00,302.38 L536.56,301.15 L537.26,299.95 L538.10,298.78 L539.07,297.65 L540.17,296.56 L541.39,295.53 L542.74,294.55 L544.19,293.64 L545.76,292.79 L547.43,292.01 L549.19,291.31 L551.04,290.68 L552.98,290.14 L554.99,289.68 L557.06,289.30 L559.19,289.02 L561.37,288.82 L563.59,288.71 L565.85,288.69 L568.12,288.76 L570.41,288.91 L572.70,289.15 L574.99,289.47 L577.26,289.87 L579.50,290.35 L581.71,290.89 L583.88,291.49 L585.98,292.15 L588.01,292.85 L589.97,293.59 L591.82,294.35 L593.57,295.12 L595.18,295.87 L596.65,296.60 L597.94,297.27 L599.05,297.85 L599.94,298.31 L600.61,298.64 L601.06,298.81 L601.34,298.84 L601.49,298.76 L601.59,298.64 L601.61,298.44 L601.51,298.10 L601.25,297.58 L600.83,296.86 L600.28,295.94 L599.62,294.83 L598.88,293.56 L598.10,292.14 L597.29,290.59 L596.48,288.94 L595.67,287.20 L594.90,285.37 L594.16,283.48 L593.47,281.54 L592.84,279.55 L592.26,277.52 L591.76,275.47 L591.33,273.41 L590.97,271.34 L590.69,269.26 L590.49,267.20 L590.38,265.16 L590.34,263.14 L590.40,261.15 L590.53,259.21 L590.75,257.31 L591.05,255.47 L591.43,253.69 L591.89,251.98 L592.43,250.34 L593.03,248.79 L593.71,247.32 L594.46,245.94 L595.26,244.66 L596.13,243.47 L597.05,242.40 L598.02,241.43 L599.03,240.57 L600.08,239.83 L601.17,239.21 L602.28,238.71 L603.41,238.33 L604.57,238.07 L605.73,237.94 L606.90,237.93Z" fill="none" stroke="#7f5033" stroke-width="4" stroke-linejoin="round"/>
<path d="M608.07,224.33 L609.47,224.64 L610.86,225.07 L612.23,225.61 L613.57,226.26 L614.88,227.02 L616.16,227.89 L617.40,228.87 L618.60,229.96 L619.75,231.15 L620.85,232.43 L621.89,233.82 L622.87,235.29 L623.78,236.85 L624.63,238.50 L625.40,240.23 L626.10,242.03 L626.72,243.90 L627.26,245.84 L627.72,247.83 L628.09,249.88 L628.38,251.98 L628.59,254.12 L628.70,256.30 L628.73,258.50 L628.67,260.73 L628.52,262.97 L628.29,265.21 L627.98,267.45 L627.59,269.68 L627.13,271.88 L626.60,274.05 L626.02,276.17 L625.39,278.23 L624.73,280.20 L624.05,282.07 L623.39,283.81 L622.77,285.39 L622.24,286.77 L621.83,287.91 L621.60,288.78 L621.59,289.35 L621.85,289.60 L622.38,289.55 L623.20,289.24 L624.27,288.70 L625.56,288.01 L627.05,287.20 L628.71,286.32 L630.50,285.40 L632.40,284.48 L634.40,283.58 L636.47,282.71 L638.61,281.89 L640.79,281.13 L643.02,280.43 L645.27,279.81 L647.54,279.27 L649.82,278.81 L652.11,278.44 L654.39,278.16 L656.66,277.96 L658.92,277.87 L661.14,277.86 L663.34,277.94 L665.49,278.12 L667.61,278.39 L669.67,278.75 L671.68,279.20 L673.63,279.74 L675.51,280.35 L677.32,281.06 L679.05,281.84 L680.71,282.69 L682.28,283.62 L683.76,284.62 L685.15,285.68 L686.44,286.81 L687.63,287.99 L688.72,289.22 L689.70,290.51 L690.58,291.83 L691.34,293.20 L692.00,294.60 L692.54,296.02 L692.96,297.47 L693.26,298.94 L693.45,300.43 L693.52,301.92 L693.47,303.41 L693.31,304.90 L693.02,306.38 L692.62,307.85 L692.11,309.30 L691.47,310.73 L690.73,312.13 L689.87,313.50 L688.91,314.83 L687.84,316.11 L686.67,317.35 L685.39,318.53 L684.02,319.66 L682.55,320.73 L681.00,321.74 L679.36,322.67 L677.64,323.54 L675.84,324.33 L673.97,325.05 L672.04,325.68 L670.04,326.24 L667.99,326.71 L665.89,327.09 L663.75,327.39 L661.57,327.61 L659.36,327.73 L657.12,327.77 L654.87,327.73 L652.62,327.60 L650.36,327.39 L648.12,327.10 L645.89,326.74 L643.69,326.30 L641.53,325.81 L639.43,325.27 L637.39,324.68 L635.44,324.06 L633.59,323.44 L631.86,322.83 L630.28,322.25 L628.86,321.74 L627.65,321.33 L626.66,321.06 L625.92,320.97 L625.43,321.09 L625.20,321.44 L625.20,322.03 L625.42,322.87 L625.81,323.92 L626.33,325.18 L626.94,326.61 L627.62,328.20 L628.32,329.91 L629.03,331.73 L629.73,333.64 L630.39,335.63 L631.01,337.67 L631.58,339.75 L632.08,341.87 L632.51,344.01 L632.87,346.17 L633.15,348.33 L633.34,350.49 L633.45,352.63 L633.48,354.76 L633.41,356.86 L633.26,358.93 L633.03,360.96 L632.71,362.94 L632.30,364.87 L631.81,366.75 L631.24,368.56 L630.59,370.30 L629.86,371.98 L629.06,373.57 L628.19,375.08 L627.26,376.51 L626.26,377.84 L625.20,379.08 L624.08,380.23 L622.91,381.27 L621.70,382.21 L620.45,383.04 L619.15,383.76 L617.83,384.38 L616.48,384.88 L615.10,385.27 L613.71,385.54 L612.30,385.70 L610.89,385.74 L609.48,385.66 L608.07,385.47 L606.67,385.16 L605.28,384.73 L603.91,384.19 L602.57,383.54 L601.26,382.78 L599.98,381.91 L598.74,380.93 L597.54,379.84 L596.39,378.65 L595.29,377.37 L594.25,375.98 L593.27,374.51 L592.36,372.95 L591.51,371.30 L590.74,369.57 L590.04,367.77 L589.42,365.90 L588.88,363.96 L588.42,361.97 L588.05,359.92 L587.76,357.82 L587.55,355.68 L587.44,353.50 L587.41,351.30 L587.47,349.07 L587.62,346.83 L587.85,344.59 L588.16,342.35 L588.55,340.12 L589.01,337.92 L589.54,335.75 L590.12,333.63 L590.75,331.57 L591.41,329.60 L592.09,327.73 L592.75,325.99 L593.37,324.41 L593.90,323.03 L594.31,321.89 L594.54,321.02 L594.55,320.45 L594.29,320.20 L593.76,320.25 L592.94,320.56 L591.87,321.10 L590.58,321.79 L589.09,322.60 L587.43,323.48 L585.64,324.40 L583.74,325.32 L581.74,326.22 L579.67,327.09 L577.53,327.91 L575.35,328.67 L573.12,329.37 L570.87,329.99 L568.60,330.53 L566.32,330.99 L564.03,331.36 L561.75,331.64 L559.48,331.84 L557.22,331.93 L555.00,331.94 L552.80,331.86 L550.65,331.68 L548.53,331.41 L546.47,331.05 L544.46,330.60 L542.51,330.06 L540.63,329.45 L538.82,328.74 L537.09,327.96 L535.43,327.11 L533.86,326.18 L532.38,325.18 L530.99,324.12 L529.70,322.99 L528.51,321.81 L527.42,320.58 L526.44,319.29 L525.56,317.97 L524.80,316.60 L524.14,315.20 L523.60,313.78 L523.18,312.33 L522.88,310.86 L522.69,309.37 L522.62,307.88 L522.67,306.39 L522.83,304.90 L523.12,303.42 L523.52,301.95 L524.03,300.50 L524.67,299.07 L525.41,297.67 L526.27,296.30 L527.23,294.97 L528.30,293.69 L529.47,292.45 L530.75,291.27 L532.12,290.14 L533.59,289.07 L535.14,288.06 L536.78,287.13 L538.50,286.26 L540.30,285.47 L542.17,284.75 L544.10,284.12 L546.10,283.56 L548.15,283.09 L550.25,282.71 L552.39,282.41 L554.57,282.19 L556.78,282.07 L559.02,282.03 L561.27,282.07 L563.52,282.20 L565.78,282.41 L568.02,282.70 L570.25,283.06 L572.45,283.50 L574.61,283.99 L576.71,284.53 L578.75,285.12 L580.70,285.74 L582.55,286.36 L584.28,286.97 L585.86,287.55 L587.28,288.06 L588.49,288.47 L589.48,288.74 L590.22,288.83 L590.71,288.71 L590.94,288.36 L590.94,287.77 L590.72,286.93 L590.33,285.88 L589.81,284.62 L589.20,283.19 L588.52,281.60 L587.82,279.89 L587.11,278.07 L586.41,276.16 L585.75,274.17 L585.13,272.13 L584.56,270.05 L584.06,267.93 L583.63,265.79 L583.27,263.63 L582.99,261.47 L582.80,259.31 L582.69,257.17 L582.66,255.04 L582.73,252.94 L582.88,250.87 L583.11,248.84 L583.43,246.86 L583.84,244.93 L584.33,243.05 L584.90,241.24 L585.55,239.50 L586.28,237.82 L587.08,236.23 L587.95,234.72 L588.88,233.29 L589.88,231.96 L590.94,230.72 L592.06,229.57 L593.23,228.53 L594.44,227.59 L595.69,226.76 L596.99,226.04 L598.31,225.42 L599.66,224.92 L601.04,224.53 L602.43,224.26 L603.84,224.10 L605.25,224.06 L606.66,224.14Z" fill="none" stroke="#ff9f65" stroke-width="4" stroke-linejoin="round"/>
<path d="M608.07,227.33 L609.42,227.64 L610.75,228.06 L612.07,228.60 L613.36,229.25 L614.62,230.01 L615.85,230.88 L617.04,231.85 L618.18,232.93 L619.28,234.11 L620.33,235.39 L621.31,236.76 L622.24,238.22 L623.11,239.78 L623.90,241.41 L624.62,243.12 L625.27,244.91 L625.84,246.77 L626.33,248.69 L626.74,250.67 L627.07,252.70 L627.31,254.78 L627.46,256.90 L627.53,259.06 L627.51,261.24 L627.40,263.45 L627.21,265.66 L626.93,267.88 L626.57,270.10 L626.14,272.30 L625.63,274.48 L625.06,276.62 L624.43,278.72 L623.76,280.75 L623.05,282.69 L622.33,284.53 L621.63,286.24 L620.97,287.78 L620.39,289.13 L619.94,290.24 L619.67,291.08 L619.62,291.61 L619.84,291.83 L620.34,291.75 L621.11,291.40 L622.14,290.83 L623.40,290.09 L624.86,289.24 L626.48,288.32 L628.23,287.37 L630.10,286.41 L632.07,285.47 L634.11,284.56 L636.21,283.69 L638.37,282.89 L640.56,282.15 L642.78,281.49 L645.03,280.90 L647.28,280.40 L649.54,279.98 L651.80,279.66 L654.04,279.42 L656.27,279.27 L658.47,279.22 L660.64,279.26 L662.78,279.39 L664.87,279.61 L666.91,279.92 L668.90,280.32 L670.83,280.81 L672.69,281.38 L674.48,282.03 L676.20,282.76 L677.84,283.57 L679.39,284.45 L680.86,285.40 L682.24,286.41 L683.52,287.48 L684.70,288.61 L685.78,289.80 L686.75,291.03 L687.62,292.30 L688.37,293.61 L689.02,294.96 L689.55,296.34 L689.97,297.73 L690.27,299.15 L690.46,300.58 L690.52,302.02 L690.47,303.46 L690.31,304.90 L690.02,306.33 L689.62,307.75 L689.11,309.15 L688.48,310.52 L687.74,311.87 L686.89,313.18 L685.93,314.46 L684.87,315.69 L683.70,316.88 L682.44,318.01 L681.07,319.09 L679.62,320.11 L678.08,321.06 L676.45,321.95 L674.74,322.76 L672.96,323.51 L671.10,324.17 L669.18,324.76 L667.20,325.26 L665.17,325.68 L663.09,326.02 L660.96,326.27 L658.80,326.44 L656.61,326.51 L654.40,326.51 L652.18,326.41 L649.95,326.24 L647.71,325.98 L645.49,325.64 L643.29,325.24 L641.12,324.76 L638.99,324.22 L636.91,323.63 L634.91,323.00 L632.98,322.34 L631.16,321.68 L629.46,321.02 L627.91,320.40 L626.53,319.85 L625.35,319.40 L624.40,319.09 L623.69,318.96 L623.24,319.04 L623.04,319.36 L623.08,319.91 L623.33,320.71 L623.76,321.73 L624.32,322.95 L624.98,324.35 L625.69,325.90 L626.44,327.58 L627.19,329.37 L627.92,331.25 L628.63,333.20 L629.29,335.21 L629.90,337.27 L630.45,339.36 L630.92,341.47 L631.32,343.60 L631.65,345.73 L631.89,347.87 L632.04,349.99 L632.11,352.09 L632.10,354.17 L632.00,356.21 L631.81,358.22 L631.54,360.18 L631.18,362.09 L630.74,363.95 L630.21,365.74 L629.61,367.47 L628.94,369.12 L628.19,370.70 L627.37,372.20 L626.48,373.61 L625.53,374.93 L624.52,376.16 L623.46,377.29 L622.34,378.32 L621.18,379.25 L619.98,380.08 L618.74,380.79 L617.46,381.40 L616.16,381.90 L614.84,382.28 L613.50,382.55 L612.15,382.70 L610.79,382.74 L609.43,382.66 L608.07,382.47 L606.72,382.16 L605.39,381.74 L604.07,381.20 L602.78,380.55 L601.52,379.79 L600.29,378.92 L599.10,377.95 L597.96,376.87 L596.86,375.69 L595.81,374.41 L594.83,373.04 L593.90,371.58 L593.03,370.02 L592.24,368.39 L591.52,366.68 L590.87,364.89 L590.30,363.03 L589.81,361.11 L589.40,359.13 L589.07,357.10 L588.83,355.02 L588.68,352.90 L588.61,350.74 L588.63,348.56 L588.74,346.35 L588.93,344.14 L589.21,341.92 L589.57,339.70 L590.00,337.50 L590.51,335.32 L591.08,333.18 L591.71,331.08 L592.38,329.05 L593.09,327.11 L593.81,325.27 L594.51,323.56 L595.17,322.02 L595.75,320.67 L596.20,319.56 L596.47,318.72 L596.52,318.19 L596.30,317.97 L595.80,318.05 L595.03,318.40 L594.00,318.97 L592.74,319.71 L591.28,320.56 L589.66,321.48 L587.91,322.43 L586.04,323.39 L584.07,324.33 L582.03,325.24 L579.93,326.11 L577.77,326.91 L575.58,327.65 L573.36,328.31 L571.11,328.90 L568.86,329.40 L566.60,329.82 L564.34,330.14 L562.10,330.38 L559.87,330.53 L557.67,330.58 L555.50,330.54 L553.36,330.41 L551.27,330.19 L549.23,329.88 L547.24,329.48 L545.31,328.99 L543.45,328.42 L541.66,327.77 L539.94,327.04 L538.30,326.23 L536.75,325.35 L535.28,324.40 L533.90,323.39 L532.62,322.32 L531.44,321.19 L530.36,320.00 L529.39,318.77 L528.52,317.50 L527.77,316.19 L527.12,314.84 L526.59,313.46 L526.17,312.07 L525.87,310.65 L525.68,309.22 L525.62,307.78 L525.67,306.34 L525.83,304.90 L526.12,303.47 L526.52,302.05 L527.03,300.65 L527.66,299.28 L528.40,297.93 L529.25,296.62 L530.21,295.34 L531.27,294.11 L532.44,292.92 L533.70,291.79 L535.07,290.71 L536.52,289.69 L538.06,288.74 L539.69,287.85 L541.40,287.04 L543.18,286.29 L545.04,285.63 L546.96,285.04 L548.94,284.54 L550.97,284.12 L553.05,283.78 L555.18,283.53 L557.34,283.36 L559.53,283.29 L561.74,283.29 L563.96,283.39 L566.19,283.56 L568.43,283.82 L570.65,284.16 L572.85,284.56 L575.02,285.04 L577.15,285.58 L579.23,286.17 L581.23,286.80 L583.16,287.46 L584.98,288.12 L586.68,288.78 L588.23,289.40 L589.61,289.95 L590.79,290.40 L591.74,290.71 L592.45,290.84 L592.90,290.76 L593.10,290.44 L593.06,289.89 L592.81,289.09 L592.38,288.07 L591.82,286.85 L591.16,285.45 L590.45,283.90 L589.70,282.22 L588.95,280.43 L588.22,278.55 L587.51,276.60 L586.85,274.59 L586.24,272.53 L585.69,270.44 L585.22,268.33 L584.82,266.20 L584.49,264.07 L584.25,261.93 L584.10,259.81 L584.03,257.71 L584.04,255.63 L584.14,253.59 L584.33,251.58 L584.60,249.62 L584.96,247.71 L585.40,245.85 L585.93,244.06 L586.53,242.33 L587.20,240.68 L587.95,239.10 L588.77,237.60 L589.66,236.19 L590.61,234.87 L591.62,233.64 L592.68,232.51 L593.80,231.48 L594.96,230.55 L596.16,229.72 L597.40,229.01 L598.68,228.40 L599.98,227.90 L601.30,227.52 L602.64,227.25 L603.99,227.10 L605.35,227.06 L606.71,227.14Z" fill="none" stroke="#ffc77f" stroke-width="4" stroke-linejoin="round"/>
<path d="M608.07,261.51 L608.83,261.63 L609.57,261.81 L610.32,262.05 L611.05,262.35 L611.76,262.72 L612.46,263.15 L613.14,263.64 L613.79,264.18 L614.42,264.78 L615.03,265.44 L615.60,266.15 L616.14,266.92 L616.65,267.74 L617.12,268.60 L617.55,269.51 L617.94,270.47 L618.29,271.47 L618.59,272.51 L618.85,273.59 L619.06,274.70 L619.22,275.85 L619.33,277.03 L619.39,278.23 L619.40,279.45 L619.35,280.70 L619.26,281.96 L619.11,283.24 L618.90,284.53 L618.64,285.82 L618.34,287.12 L617.97,288.42 L617.57,289.70 L617.11,290.98 L616.61,292.24 L616.07,293.48 L615.49,294.68 L614.90,295.84 L614.29,296.94 L613.69,297.96 L613.12,298.88 L612.64,299.64 L612.30,300.20 L612.17,300.50 L612.31,300.51 L612.72,300.25 L613.36,299.80 L614.17,299.21 L615.12,298.55 L616.17,297.86 L617.30,297.16 L618.48,296.47 L619.71,295.80 L620.98,295.17 L622.28,294.58 L623.60,294.03 L624.94,293.52 L626.29,293.07 L627.65,292.67 L629.01,292.32 L630.37,292.02 L631.73,291.78 L633.08,291.60 L634.42,291.47 L635.74,291.40 L637.04,291.39 L638.32,291.43 L639.57,291.53 L640.79,291.68 L641.98,291.88 L643.13,292.14 L644.24,292.45 L645.31,292.80 L646.33,293.20 L647.30,293.65 L648.22,294.14 L649.09,294.67 L649.90,295.24 L650.65,295.85 L651.34,296.49 L651.97,297.16 L652.54,297.86 L653.04,298.58 L653.47,299.33 L653.83,300.09 L654.12,300.87 L654.35,301.66 L654.50,302.47 L654.58,303.28 L654.59,304.09 L654.52,304.90 L654.39,305.71 L654.18,306.51 L653.91,307.30 L653.56,308.08 L653.14,308.84 L652.66,309.59 L652.11,310.31 L651.49,311.00 L650.81,311.67 L650.07,312.31 L649.27,312.91 L648.41,313.47 L647.50,314.00 L646.53,314.49 L645.51,314.93 L644.45,315.33 L643.34,315.68 L642.19,315.99 L641.00,316.24 L639.78,316.44 L638.52,316.59 L637.23,316.68 L635.92,316.72 L634.59,316.71 L633.24,316.64 L631.88,316.51 L630.50,316.33 L629.12,316.09 L627.74,315.80 L626.36,315.46 L624.99,315.07 L623.63,314.62 L622.29,314.13 L620.97,313.60 L619.68,313.03 L618.43,312.43 L617.23,311.80 L616.09,311.17 L615.04,310.55 L614.11,309.97 L613.33,309.48 L612.77,309.13 L612.47,309.00 L612.46,309.14 L612.71,309.54 L613.16,310.17 L613.74,310.98 L614.38,311.91 L615.05,312.93 L615.72,314.02 L616.38,315.16 L617.01,316.34 L617.61,317.56 L618.17,318.80 L618.68,320.05 L619.14,321.32 L619.56,322.59 L619.92,323.87 L620.23,325.14 L620.49,326.41 L620.69,327.67 L620.84,328.92 L620.94,330.16 L620.98,331.37 L620.97,332.57 L620.91,333.74 L620.79,334.88 L620.63,335.99 L620.42,337.06 L620.16,338.11 L619.85,339.11 L619.50,340.07 L619.10,340.99 L618.67,341.86 L618.19,342.68 L617.68,343.46 L617.14,344.18 L616.56,344.85 L615.96,345.47 L615.32,346.02 L614.66,346.53 L613.98,346.97 L613.28,347.35 L612.57,347.67 L611.83,347.93 L611.09,348.13 L610.34,348.27 L609.59,348.34 L608.83,348.35 L608.07,348.29 L607.31,348.17 L606.57,347.99 L605.82,347.75 L605.09,347.45 L604.38,347.08 L603.68,346.65 L603.00,346.16 L602.35,345.62 L601.72,345.02 L601.11,344.36 L600.54,343.65 L600.00,342.88 L599.49,342.06 L599.02,341.20 L598.59,340.29 L598.20,339.33 L597.85,338.33 L597.55,337.29 L597.29,336.21 L597.08,335.10 L596.92,333.95 L596.81,332.77 L596.75,331.57 L596.74,330.35 L596.79,329.10 L596.88,327.84 L597.03,326.56 L597.24,325.27 L597.50,323.98 L597.80,322.68 L598.17,321.38 L598.57,320.10 L599.03,318.82 L599.53,317.56 L600.07,316.32 L600.65,315.12 L601.24,313.96 L601.85,312.86 L602.45,311.84 L603.02,310.92 L603.50,310.16 L603.84,309.60 L603.97,309.30 L603.83,309.29 L603.42,309.55 L602.78,310.00 L601.97,310.59 L601.02,311.25 L599.97,311.94 L598.84,312.64 L597.66,313.33 L596.43,314.00 L595.16,314.63 L593.86,315.22 L592.54,315.77 L591.20,316.28 L589.85,316.73 L588.49,317.13 L587.13,317.48 L585.77,317.78 L584.41,318.02 L583.06,318.20 L581.72,318.33 L580.40,318.40 L579.10,318.41 L577.82,318.37 L576.57,318.27 L575.35,318.12 L574.16,317.92 L573.01,317.66 L571.90,317.35 L570.83,317.00 L569.81,316.60 L568.84,316.15 L567.92,315.66 L567.05,315.13 L566.24,314.56 L565.49,313.95 L564.80,313.31 L564.17,312.64 L563.60,311.94 L563.10,311.22 L562.67,310.47 L562.31,309.71 L562.02,308.93 L561.79,308.14 L561.64,307.33 L561.56,306.52 L561.55,305.71 L561.62,304.90 L561.75,304.09 L561.96,303.29 L562.23,302.50 L562.58,301.72 L563.00,300.96 L563.48,300.21 L564.03,299.49 L564.65,298.80 L565.33,298.13 L566.07,297.49 L566.87,296.89 L567.73,296.33 L568.64,295.80 L569.61,295.31 L570.63,294.87 L571.69,294.47 L572.80,294.12 L573.95,293.81 L575.14,293.56 L576.36,293.36 L577.62,293.21 L578.91,293.12 L580.22,293.08 L581.55,293.09 L582.90,293.16 L584.26,293.29 L585.64,293.47 L587.02,293.71 L588.40,294.00 L589.78,294.34 L591.15,294.73 L592.51,295.18 L593.85,295.67 L595.17,296.20 L596.46,296.77 L597.71,297.37 L598.91,298.00 L600.05,298.63 L601.10,299.25 L602.03,299.83 L602.81,300.32 L603.37,300.67 L603.67,300.80 L603.68,300.66 L603.43,300.26 L602.98,299.63 L602.40,298.82 L601.76,297.89 L601.09,296.87 L600.42,295.78 L599.76,294.64 L599.13,293.46 L598.53,292.24 L597.97,291.00 L597.46,289.75 L597.00,288.48 L596.58,287.21 L596.22,285.93 L595.91,284.66 L595.65,283.39 L595.45,282.13 L595.30,280.88 L595.20,279.64 L595.16,278.43 L595.17,277.23 L595.23,276.06 L595.35,274.92 L595.51,273.81 L595.72,272.74 L595.98,271.69 L596.29,270.69 L596.64,269.73 L597.04,268.81 L597.47,267.94 L597.95,267.12 L598.46,266.34 L599.00,265.62 L599.58,264.95 L600.18,264.33 L600.82,263.78 L601.48,263.27 L602.16,262.83 L602.86,262.45 L603.57,262.13 L604.31,261.87 L605.05,261.67 L605.80,261.53 L606.55,261.46 L607.31,261.45Z" fill="none" stroke="#402819" stroke-width="4" stroke-linejoin="round"/>
<path d="M608.07,282.52 L608.46,282.57 L608.85,282.65 L609.23,282.76 L609.61,282.90 L609.98,283.07 L610.34,283.27 L610.70,283.49 L611.04,283.75 L611.38,284.03 L611.70,284.33 L612.00,284.66 L612.30,285.02 L612.57,285.40 L612.83,285.81 L613.07,286.24 L613.29,286.70 L613.49,287.17 L613.67,287.67 L613.83,288.18 L613.96,288.72 L614.07,289.27 L614.15,289.85 L614.21,290.44 L614.24,291.04 L614.24,291.66 L614.22,292.29 L614.17,292.94 L614.08,293.59 L613.97,294.26 L613.82,294.94 L613.65,295.62 L613.44,296.31 L613.19,297.01 L612.92,297.72 L612.60,298.43 L612.25,299.14 L611.87,299.86 L611.44,300.59 L610.97,301.32 L610.46,302.05 L609.90,302.80 L609.29,303.55 L608.70,304.23 L608.96,303.98 L609.66,303.31 L610.38,302.67 L611.10,302.08 L611.81,301.53 L612.52,301.03 L613.23,300.57 L613.94,300.14 L614.66,299.75 L615.37,299.40 L616.08,299.08 L616.78,298.80 L617.49,298.55 L618.18,298.33 L618.88,298.15 L619.56,297.99 L620.24,297.87 L620.91,297.78 L621.57,297.72 L622.22,297.69 L622.86,297.69 L623.48,297.72 L624.08,297.77 L624.67,297.85 L625.24,297.96 L625.79,298.10 L626.32,298.26 L626.83,298.44 L627.32,298.64 L627.79,298.87 L628.23,299.12 L628.64,299.39 L629.03,299.67 L629.39,299.98 L629.72,300.30 L630.03,300.63 L630.30,300.98 L630.55,301.34 L630.76,301.71 L630.95,302.09 L631.10,302.48 L631.22,302.87 L631.31,303.27 L631.37,303.68 L631.39,304.09 L631.39,304.49 L631.35,304.90 L631.28,305.31 L631.17,305.71 L631.04,306.10 L630.87,306.49 L630.67,306.88 L630.45,307.25 L630.19,307.62 L629.90,307.97 L629.58,308.31 L629.24,308.63 L628.87,308.94 L628.47,309.24 L628.05,309.51 L627.60,309.77 L627.12,310.01 L626.63,310.22 L626.11,310.42 L625.57,310.59 L625.02,310.73 L624.44,310.86 L623.85,310.96 L623.24,311.03 L622.61,311.07 L621.97,311.09 L621.32,311.08 L620.66,311.04 L619.99,310.97 L619.31,310.88 L618.62,310.75 L617.93,310.59 L617.23,310.40 L616.53,310.18 L615.82,309.93 L615.11,309.65 L614.40,309.33 L613.68,308.98 L612.97,308.59 L612.26,308.17 L611.54,307.71 L610.82,307.21 L610.10,306.67 L609.38,306.08 L608.74,305.52 L608.97,305.77 L609.60,306.43 L610.20,307.10 L610.75,307.78 L611.26,308.44 L611.73,309.10 L612.15,309.76 L612.54,310.42 L612.89,311.07 L613.21,311.72 L613.50,312.37 L613.75,313.01 L613.97,313.65 L614.16,314.28 L614.32,314.90 L614.45,315.51 L614.55,316.12 L614.62,316.71 L614.66,317.29 L614.68,317.87 L614.67,318.42 L614.63,318.97 L614.57,319.50 L614.49,320.01 L614.38,320.51 L614.25,320.99 L614.09,321.45 L613.92,321.90 L613.73,322.32 L613.52,322.72 L613.29,323.10 L613.04,323.46 L612.78,323.80 L612.51,324.11 L612.21,324.40 L611.91,324.67 L611.60,324.91 L611.27,325.12 L610.94,325.31 L610.60,325.48 L610.25,325.61 L609.89,325.73 L609.53,325.81 L609.17,325.87 L608.80,325.90 L608.44,325.91 L608.07,325.88 L607.70,325.84 L607.34,325.76 L606.98,325.66 L606.63,325.53 L606.28,325.37 L605.94,325.19 L605.60,324.98 L605.28,324.75 L604.97,324.49 L604.67,324.21 L604.38,323.90 L604.10,323.57 L603.84,323.21 L603.60,322.84 L603.37,322.44 L603.16,322.02 L602.97,321.58 L602.80,321.12 L602.65,320.64 L602.52,320.14 L602.42,319.62 L602.34,319.09 L602.28,318.54 L602.25,317.98 L602.24,317.40 L602.26,316.81 L602.31,316.21 L602.38,315.59 L602.49,314.97 L602.62,314.34 L602.79,313.69 L602.98,313.04 L603.21,312.38 L603.47,311.72 L603.76,311.05 L604.09,310.38 L604.46,309.70 L604.86,309.01 L605.30,308.32 L605.79,307.62 L606.32,306.92 L606.89,306.21 L607.45,305.56 L607.20,305.80 L606.54,306.43 L605.85,307.04 L605.16,307.61 L604.48,308.13 L603.79,308.62 L603.10,309.07 L602.42,309.48 L601.73,309.86 L601.04,310.20 L600.35,310.51 L599.66,310.79 L598.97,311.04 L598.29,311.25 L597.61,311.44 L596.93,311.59 L596.26,311.72 L595.60,311.81 L594.95,311.88 L594.30,311.91 L593.67,311.92 L593.05,311.90 L592.45,311.86 L591.86,311.78 L591.28,311.68 L590.73,311.56 L590.19,311.41 L589.67,311.24 L589.17,311.04 L588.70,310.82 L588.25,310.58 L587.82,310.33 L587.42,310.05 L587.04,309.76 L586.69,309.45 L586.36,309.12 L586.07,308.78 L585.80,308.43 L585.57,308.06 L585.36,307.69 L585.18,307.31 L585.04,306.91 L584.93,306.52 L584.85,306.12 L584.80,305.71 L584.78,305.31 L584.79,304.90 L584.84,304.49 L584.92,304.09 L585.03,303.69 L585.17,303.30 L585.35,302.91 L585.55,302.53 L585.79,302.16 L586.06,301.81 L586.35,301.46 L586.68,301.13 L587.03,300.81 L587.41,300.51 L587.82,300.23 L588.26,299.96 L588.72,299.71 L589.20,299.49 L589.71,299.29 L590.24,299.11 L590.79,298.95 L591.36,298.82 L591.95,298.71 L592.56,298.63 L593.18,298.58 L593.82,298.55 L594.47,298.56 L595.14,298.59 L595.81,298.66 L596.50,298.75 L597.20,298.87 L597.91,299.03 L598.62,299.22 L599.34,299.44 L600.06,299.70 L600.79,299.99 L601.52,300.31 L602.25,300.67 L602.99,301.07 L603.72,301.50 L604.47,301.98 L605.21,302.50 L605.96,303.07 L606.71,303.68 L607.40,304.27 L607.15,304.01 L606.48,303.31 L605.85,302.60 L605.27,301.90 L604.73,301.19 L604.24,300.50 L603.79,299.80 L603.38,299.11 L603.00,298.42 L602.66,297.73 L602.36,297.04 L602.09,296.36 L601.85,295.69 L601.65,295.02 L601.48,294.35 L601.34,293.70 L601.23,293.05 L601.15,292.42 L601.10,291.79 L601.08,291.18 L601.09,290.58 L601.12,290.00 L601.18,289.43 L601.27,288.87 L601.38,288.34 L601.51,287.82 L601.67,287.32 L601.85,286.84 L602.05,286.39 L602.28,285.95 L602.52,285.54 L602.78,285.15 L603.06,284.79 L603.35,284.45 L603.66,284.13 L603.98,283.85 L604.31,283.58 L604.66,283.35 L605.01,283.14 L605.38,282.97 L605.75,282.81 L606.13,282.69 L606.51,282.60 L606.90,282.54 L607.29,282.50 L607.68,282.49Z" fill="none" stroke="#000000" stroke-width="4" stroke-linejoin="round"/>
<defs><linearGradient id="cb" x1="0" y1="0" x2="0" y2="1"><stop offset="0.000" stop-color="#ffc77f"/><stop offset="0.050" stop-color="#ffbd79"/><stop offset="0.100" stop-color="#ffb372"/><stop offset="0.150" stop-color="#ffa96c"/><stop offset="0.200" stop-color="#ff9f65"/><stop offset="0.250" stop-color="#ef955f"/><stop offset="0.300" stop-color="#df8b59"/><stop offset="0.350" stop-color="#cf8152"/><stop offset="0.400" stop-color="#bf784c"/><stop offset="0.450" stop-color="#af6e46"/><stop offset="0.500" stop-color="#9f643f"/><stop offset="0.550" stop-color="#8f5a39"/><stop offset="0.600" stop-color="#805033"/><stop offset="0.650" stop-color="#70462c"/><stop offset="0.700" stop-color="#603c26"/><stop offset="0.750" stop-color="#503220"/><stop offset="0.800" stop-color="#402819"/><stop offset="0.850" stop-color="#301e13"/><stop offset="0.900" stop-color="#20140d"/><stop offset="0.950" stop-color="#100a06"/><stop offset="1.000" stop-color="#000000"/></linearGradient></defs>
<rect x="375.20" y="209.00" width="16.65" height="185.00" fill="url(#cb)"/>
<polygon points="375.20,209.50 383.52,199.90 391.85,209.50" fill="#ffc77f"/>
<polygon points="375.20,393.50 383.52,402.80 391.85,393.50" fill="#000"/>
<polygon points="375.20,209.00 383.52,199.90 391.85,209.00 391.85,394.00 383.52,402.80 375.20,394.00" fill="none" stroke="#000" stroke-width="2.2" stroke-linejoin="miter"/>
<line x1="392.35" y1="209.00" x2="400.6" y2="209.00" stroke="#808080" stroke-width="1.4"/>
<text transform="translate(408.00,214.00) scale(0.9050,1)" x="0" y="0" text-anchor="start" class="cbl" style="font-size:15.30px" >0.06</text>
<line x1="392.35" y1="246.00" x2="400.6" y2="246.00" stroke="#808080" stroke-width="1.4"/>
<text transform="translate(408.00,251.00) scale(0.9050,1)" x="0" y="0" text-anchor="start" class="cbl" style="font-size:15.30px" >0.05</text>
<line x1="392.35" y1="283.00" x2="400.6" y2="283.00" stroke="#808080" stroke-width="1.4"/>
<text transform="translate(408.00,288.00) scale(0.9050,1)" x="0" y="0" text-anchor="start" class="cbl" style="font-size:15.30px" >0.04</text>
<line x1="392.35" y1="320.00" x2="400.6" y2="320.00" stroke="#808080" stroke-width="1.4"/>
<text transform="translate(408.00,325.00) scale(0.9050,1)" x="0" y="0" text-anchor="start" class="cbl" style="font-size:15.30px" >0.03</text>
<line x1="392.35" y1="357.00" x2="400.6" y2="357.00" stroke="#808080" stroke-width="1.4"/>
<text transform="translate(408.00,362.00) scale(0.9050,1)" x="0" y="0" text-anchor="start" class="cbl" style="font-size:15.30px" >0.02</text>
<line x1="392.35" y1="394.00" x2="400.6" y2="394.00" stroke="#808080" stroke-width="1.4"/>
<text transform="translate(408.00,399.00) scale(0.9050,1)" x="0" y="0" text-anchor="start" class="cbl" style="font-size:15.30px" >0.01</text>
<text x="400.0" y="167.6" text-anchor="middle" class="cbt">Frequency [Hz]</text>
<text transform="translate(748.49,483.9) scale(0.696,1)" x="0" y="0" style="font-family:'Liberation Serif',serif;font-size:29.00px;fill:#111">I</text>
<text transform="translate(756.29,483.9) scale(0.826,1)" x="0" y="0" style="font-family:'Liberation Serif',serif;font-size:24.60px;fill:#111">R</text>
<text transform="translate(770.92,483.9) scale(0.557,1)" x="0" y="0" style="font-family:'Liberation Serif',serif;font-size:24.60px;fill:#111">I</text>
<text transform="translate(774.33,483.9) scale(1.223,1)" x="0" y="0" style="font-family:'Liberation Serif',serif;font-size:23.90px;fill:#111">S</text>
<ellipse cx="768.8" cy="461.5" rx="3.2" ry="5.5" fill="#aaa" opacity="0.6"/>
<polyline points="748.8,461.8 749.6,461.9 750.4,462.3 751.2,462.2 752.0,461.8 752.8,462.1 753.6,462.1 754.4,461.9 755.2,462.3 756.0,461.8 756.8,462.0 757.6,462.1 758.4,462.1 759.2,462.2 760.0,462.3 760.8,462.4 761.6,461.9 762.4,462.2 763.2,462.2 764.0,462.0 764.8,461.8 765.6,462.6 766.4,461.7 767.2,461.4 768.0,464.7 768.8,462.9 769.6,461.8 770.4,464.3 771.2,459.6 772.0,462.7 772.8,461.9 773.6,461.7 774.4,462.2 775.2,462.4 776.0,461.9 776.8,462.2 777.6,462.0 778.4,462.3 779.2,462.3 780.0,461.9 780.8,462.3 781.6,462.2 782.4,462.2 783.2,462.3 784.0,462.1 784.8,462.3 785.6,462.4 786.4,461.8 787.2,462.3 788.0,462.0" fill="none" stroke="#333" stroke-width="1.0"/>
<line x1="769.4" y1="454" x2="769.4" y2="467" stroke="#555" stroke-width="0.9"/>
<text transform="translate(185.39,36.40) scale(0.9484,1)" x="0" y="0" text-anchor="start" class="t1" style="font-size:30.07px" >Surface-Wave</text>
<text transform="translate(376.03,36.40) scale(0.9267,1)" x="0" y="0" text-anchor="start" class="t1" style="font-size:30.07px" >Radiation</text>
<text transform="translate(501.98,36.40) scale(0.9538,1)" x="0" y="0" text-anchor="start" class="t1" style="font-size:30.07px" >Pattern</text>
<text transform="translate(601.50,36.40) scale(0.8741,1)" x="0" y="0" text-anchor="start" class="t1" style="font-size:30.07px" >for</text>
<text transform="translate(59.31,66.80) scale(0.9321,1)" x="0" y="0" text-anchor="start" class="t1" style="font-size:30.21px" >MW</text>
<text transform="translate(116.47,66.80) scale(0.9437,1)" x="0" y="0" text-anchor="start" class="t1" style="font-size:30.21px" >7.5</text>
<text transform="translate(162.96,66.80) scale(0.9621,1)" x="0" y="0" text-anchor="start" class="t1" style="font-size:30.21px" >(GCMT)</text>
<text transform="translate(275.31,66.80) scale(0.9098,1)" x="0" y="0" text-anchor="start" class="t1" style="font-size:30.21px" >SOUTHEAST</text>
<text transform="translate(456.05,66.80) scale(0.8941,1)" x="0" y="0" text-anchor="start" class="t1" style="font-size:30.21px" >OF</text>
<text transform="translate(500.42,66.80) scale(0.9742,1)" x="0" y="0" text-anchor="start" class="t1" style="font-size:30.21px" >LOYALTY</text>
<text transform="translate(637.03,66.80) scale(0.9335,1)" x="0" y="0" text-anchor="start" class="t1" style="font-size:30.21px" >ISLANDS</text>
<text transform="translate(273.52,91.20) scale(0.8651,1)" x="0" y="0" text-anchor="start" class="t1" style="font-size:18.92px" >of</text>
<text transform="translate(293.02,91.20) scale(0.9885,1)" x="0" y="0" text-anchor="start" class="t1" style="font-size:18.92px" >December</text>
<text transform="translate(384.82,91.20) scale(0.9461,1)" x="0" y="0" text-anchor="start" class="t1" style="font-size:18.92px" >05,</text>
<text transform="translate(418.00,91.20) scale(0.9957,1)" x="0" y="0" text-anchor="start" class="t1" style="font-size:18.92px" >2018,</text>
<text transform="translate(470.40,91.20) scale(0.9917,1)" x="0" y="0" text-anchor="start" class="t1" style="font-size:18.92px" >04:18:08</text>
<text transform="translate(107.01,137.20) scale(0.9972,1)" x="0" y="0" text-anchor="start" class="t1" style="font-size:23.72px" >Rayleigh</text>
<text transform="translate(204.00,137.20) scale(1.0324,1)" x="0" y="0" text-anchor="start" class="t1" style="font-size:23.72px" >Waves</text>
<text transform="translate(542.59,137.10) scale(1.0004,1)" x="0" y="0" text-anchor="start" class="t1" style="font-size:23.75px" >Love</text>
<text transform="translate(600.99,137.10) scale(1.0079,1)" x="0" y="0" text-anchor="start" class="t1" style="font-size:23.75px" >Waves</text>
<text transform="translate(265.40,473.30) scale(1.0000,1)" x="0" y="0" text-anchor="start" class="cap" style="font-size:18.95px" >Spectral Amplitudes in</text>
<text transform="translate(458.60,473.40) scale(1.0000,1)" x="0" y="0" text-anchor="start" class="cap" style="font-size:20.10px" >10</text>
<text transform="translate(483.20,465.50) scale(1.0000,1)" x="0" y="0" text-anchor="start" class="cap" style="font-size:15.20px" >−1</text>
<text transform="translate(507.30,473.30) scale(1.0000,1)" x="0" y="0" text-anchor="start" class="cap" style="font-size:19.30px" >m/Hz</text>
<line x1="461.2" y1="472.45" x2="469.8" y2="472.45" stroke="#000" stroke-width="1.5"/>
<line x1="493.6" y1="464.9" x2="500.4" y2="464.9" stroke="#000" stroke-width="1.1"/>
</svg>
</body></html>
